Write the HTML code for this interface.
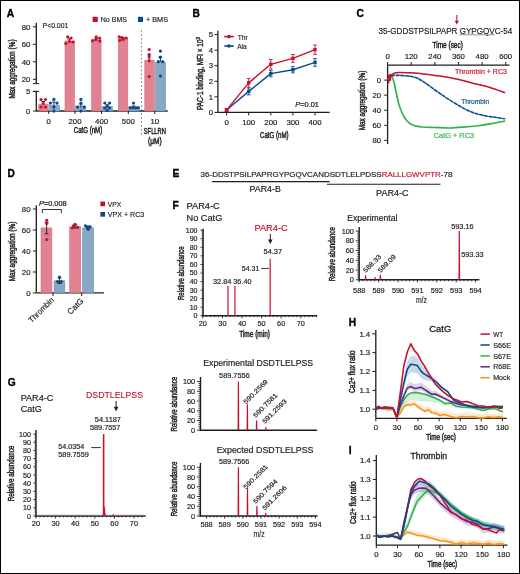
<!DOCTYPE html>
<html><head><meta charset="utf-8"><style>
html,body{margin:0;padding:0;background:#fff;}
svg{display:block;font-family:"Liberation Sans",sans-serif;will-change:transform;}
</style></head><body>
<svg width="520" height="574" viewBox="0 0 520 574">
<rect x="0" y="0" width="520" height="574" fill="#fff"/>
<g fill="#1e1e1e">
<text x="6.8" y="16.6" font-size="10.2" font-weight="bold" fill="#000" stroke="#000" stroke-width="0.35">A</text>
<line x1="36.30" y1="22.80" x2="36.30" y2="83.60" stroke="#1e1e1e" stroke-width="1.3"/>
<line x1="32.90" y1="26.80" x2="36.30" y2="26.80" stroke="#1e1e1e" stroke-width="1"/>
<text x="30.30" y="29.56" font-size="7.78" stroke="#1e1e1e" stroke-width="0.18" text-anchor="end">80</text>
<line x1="32.90" y1="44.30" x2="36.30" y2="44.30" stroke="#1e1e1e" stroke-width="1"/>
<text x="30.30" y="47.06" font-size="7.78" stroke="#1e1e1e" stroke-width="0.18" text-anchor="end">60</text>
<line x1="32.90" y1="61.80" x2="36.30" y2="61.80" stroke="#1e1e1e" stroke-width="1"/>
<text x="30.30" y="64.56" font-size="7.78" stroke="#1e1e1e" stroke-width="0.18" text-anchor="end">40</text>
<line x1="32.90" y1="79.30" x2="36.30" y2="79.30" stroke="#1e1e1e" stroke-width="1"/>
<text x="30.30" y="82.06" font-size="7.78" stroke="#1e1e1e" stroke-width="0.18" text-anchor="end">20</text>
<line x1="32.90" y1="83.60" x2="39.20" y2="83.60" stroke="#1e1e1e" stroke-width="1"/>
<line x1="36.30" y1="91.30" x2="36.30" y2="111.20" stroke="#1e1e1e" stroke-width="1.3"/>
<line x1="32.90" y1="91.30" x2="39.20" y2="91.30" stroke="#1e1e1e" stroke-width="1"/>
<line x1="32.90" y1="91.50" x2="36.30" y2="91.50" stroke="#1e1e1e" stroke-width="1"/>
<text x="30.30" y="94.26" font-size="7.78" stroke="#1e1e1e" stroke-width="0.18" text-anchor="end">5</text>
<line x1="32.90" y1="111.00" x2="36.30" y2="111.00" stroke="#1e1e1e" stroke-width="1"/>
<text x="30.30" y="113.76" font-size="7.78" stroke="#1e1e1e" stroke-width="0.18" text-anchor="end">0</text>
<line x1="36.30" y1="111.00" x2="167.70" y2="111.00" stroke="#1e1e1e" stroke-width="1.3"/>
<rect x="38.70" y="104.45" width="9.50" height="6.55" fill="#e08291" stroke="#d96d80" stroke-width="0.6"/>
<rect x="49.30" y="105.22" width="10.20" height="5.78" fill="#88a7c6" stroke="#7796b8" stroke-width="0.6"/>
<line x1="48.70" y1="111.00" x2="48.70" y2="114.00" stroke="#1e1e1e" stroke-width="1"/>
<rect x="65.00" y="40.98" width="9.50" height="70.03" fill="#e08291" stroke="#d96d80" stroke-width="0.6"/>
<rect x="75.60" y="106.00" width="10.20" height="5.00" fill="#88a7c6" stroke="#7796b8" stroke-width="0.6"/>
<line x1="75.00" y1="111.00" x2="75.00" y2="114.00" stroke="#1e1e1e" stroke-width="1"/>
<rect x="91.60" y="39.75" width="9.50" height="71.25" fill="#e08291" stroke="#d96d80" stroke-width="0.6"/>
<rect x="102.20" y="106.38" width="10.20" height="4.62" fill="#88a7c6" stroke="#7796b8" stroke-width="0.6"/>
<line x1="101.60" y1="111.00" x2="101.60" y2="114.00" stroke="#1e1e1e" stroke-width="1"/>
<rect x="118.30" y="38.79" width="9.50" height="72.21" fill="#e08291" stroke="#d96d80" stroke-width="0.6"/>
<rect x="128.90" y="106.77" width="10.20" height="4.23" fill="#88a7c6" stroke="#7796b8" stroke-width="0.6"/>
<line x1="128.30" y1="111.00" x2="128.30" y2="114.00" stroke="#1e1e1e" stroke-width="1"/>
<rect x="144.80" y="60.31" width="9.50" height="50.69" fill="#e08291" stroke="#d96d80" stroke-width="0.6"/>
<rect x="155.40" y="62.24" width="10.20" height="48.76" fill="#88a7c6" stroke="#7796b8" stroke-width="0.6"/>
<line x1="154.80" y1="111.00" x2="154.80" y2="114.00" stroke="#1e1e1e" stroke-width="1"/>
<line x1="43.20" y1="101.50" x2="43.20" y2="104.50" stroke="#1e1e1e" stroke-width="0.9"/>
<line x1="41.40" y1="101.50" x2="45.00" y2="101.50" stroke="#1e1e1e" stroke-width="0.9"/>
<line x1="69.30" y1="39.00" x2="69.30" y2="42.50" stroke="#1e1e1e" stroke-width="0.9"/>
<line x1="67.50" y1="39.00" x2="71.10" y2="39.00" stroke="#1e1e1e" stroke-width="0.9"/>
<line x1="96.40" y1="38.50" x2="96.40" y2="41.00" stroke="#1e1e1e" stroke-width="0.9"/>
<line x1="94.60" y1="38.50" x2="98.20" y2="38.50" stroke="#1e1e1e" stroke-width="0.9"/>
<line x1="123.00" y1="37.50" x2="123.00" y2="40.00" stroke="#1e1e1e" stroke-width="0.9"/>
<line x1="121.20" y1="37.50" x2="124.80" y2="37.50" stroke="#1e1e1e" stroke-width="0.9"/>
<line x1="149.20" y1="54.90" x2="149.20" y2="60.30" stroke="#1e1e1e" stroke-width="0.9"/>
<line x1="147.40" y1="54.90" x2="151.00" y2="54.90" stroke="#1e1e1e" stroke-width="0.9"/>
<line x1="53.90" y1="102.00" x2="53.90" y2="106.00" stroke="#1e1e1e" stroke-width="0.9"/>
<line x1="52.10" y1="102.00" x2="55.70" y2="102.00" stroke="#1e1e1e" stroke-width="0.9"/>
<line x1="80.90" y1="104.00" x2="80.90" y2="107.50" stroke="#1e1e1e" stroke-width="0.9"/>
<line x1="79.10" y1="104.00" x2="82.70" y2="104.00" stroke="#1e1e1e" stroke-width="0.9"/>
<line x1="107.20" y1="104.80" x2="107.20" y2="107.80" stroke="#1e1e1e" stroke-width="0.9"/>
<line x1="105.40" y1="104.80" x2="109.00" y2="104.80" stroke="#1e1e1e" stroke-width="0.9"/>
<line x1="133.50" y1="106.00" x2="133.50" y2="108.50" stroke="#1e1e1e" stroke-width="0.9"/>
<line x1="131.70" y1="106.00" x2="135.30" y2="106.00" stroke="#1e1e1e" stroke-width="0.9"/>
<line x1="160.40" y1="57.20" x2="160.40" y2="62.00" stroke="#1e1e1e" stroke-width="0.9"/>
<line x1="158.60" y1="57.20" x2="162.20" y2="57.20" stroke="#1e1e1e" stroke-width="0.9"/>
<circle cx="41.00" cy="99.50" r="1.6" fill="#c8102e"/>
<circle cx="45.50" cy="99.50" r="1.6" fill="#c8102e"/>
<circle cx="41.00" cy="107.00" r="1.6" fill="#c8102e"/>
<circle cx="45.50" cy="107.00" r="1.6" fill="#c8102e"/>
<circle cx="43.20" cy="103.50" r="1.6" fill="#c8102e"/>
<circle cx="67.70" cy="36.90" r="1.6" fill="#c8102e"/>
<circle cx="71.10" cy="38.00" r="1.6" fill="#c8102e"/>
<circle cx="65.80" cy="43.50" r="1.6" fill="#c8102e"/>
<circle cx="69.50" cy="41.50" r="1.6" fill="#c8102e"/>
<circle cx="73.10" cy="42.00" r="1.6" fill="#c8102e"/>
<circle cx="92.60" cy="40.80" r="1.6" fill="#c8102e"/>
<circle cx="96.20" cy="36.90" r="1.6" fill="#c8102e"/>
<circle cx="95.70" cy="39.50" r="1.6" fill="#c8102e"/>
<circle cx="99.70" cy="38.00" r="1.6" fill="#c8102e"/>
<circle cx="99.70" cy="41.10" r="1.6" fill="#c8102e"/>
<circle cx="119.20" cy="36.90" r="1.6" fill="#c8102e"/>
<circle cx="119.70" cy="40.50" r="1.6" fill="#c8102e"/>
<circle cx="123.10" cy="39.50" r="1.6" fill="#c8102e"/>
<circle cx="126.20" cy="38.00" r="1.6" fill="#c8102e"/>
<circle cx="121.80" cy="37.70" r="1.6" fill="#c8102e"/>
<circle cx="149.20" cy="49.50" r="1.6" fill="#c8102e"/>
<circle cx="149.20" cy="54.60" r="1.6" fill="#c8102e"/>
<circle cx="149.20" cy="57.00" r="1.6" fill="#c8102e"/>
<circle cx="149.20" cy="60.70" r="1.6" fill="#c8102e"/>
<circle cx="149.20" cy="76.50" r="1.6" fill="#c8102e"/>
<circle cx="53.90" cy="99.40" r="1.6" fill="#0a4a8c"/>
<circle cx="50.40" cy="103.10" r="1.6" fill="#0a4a8c"/>
<circle cx="57.00" cy="103.10" r="1.6" fill="#0a4a8c"/>
<circle cx="53.90" cy="107.10" r="1.6" fill="#0a4a8c"/>
<circle cx="53.90" cy="111.10" r="1.6" fill="#0a4a8c"/>
<circle cx="80.90" cy="99.40" r="1.6" fill="#0a4a8c"/>
<circle cx="80.90" cy="103.10" r="1.6" fill="#0a4a8c"/>
<circle cx="77.60" cy="107.10" r="1.6" fill="#0a4a8c"/>
<circle cx="84.20" cy="107.10" r="1.6" fill="#0a4a8c"/>
<circle cx="80.90" cy="111.10" r="1.6" fill="#0a4a8c"/>
<circle cx="104.80" cy="103.00" r="1.6" fill="#0a4a8c"/>
<circle cx="109.60" cy="103.00" r="1.6" fill="#0a4a8c"/>
<circle cx="107.20" cy="106.00" r="1.6" fill="#0a4a8c"/>
<circle cx="104.80" cy="108.00" r="1.6" fill="#0a4a8c"/>
<circle cx="109.60" cy="108.00" r="1.6" fill="#0a4a8c"/>
<circle cx="107.20" cy="110.50" r="1.6" fill="#0a4a8c"/>
<circle cx="133.50" cy="103.10" r="1.6" fill="#0a4a8c"/>
<circle cx="130.00" cy="107.80" r="1.6" fill="#0a4a8c"/>
<circle cx="132.90" cy="107.80" r="1.6" fill="#0a4a8c"/>
<circle cx="135.80" cy="107.80" r="1.6" fill="#0a4a8c"/>
<circle cx="138.40" cy="107.80" r="1.6" fill="#0a4a8c"/>
<circle cx="160.40" cy="51.10" r="1.6" fill="#0a4a8c"/>
<circle cx="160.40" cy="57.20" r="1.6" fill="#0a4a8c"/>
<circle cx="158.30" cy="61.70" r="1.6" fill="#0a4a8c"/>
<circle cx="162.70" cy="61.70" r="1.6" fill="#0a4a8c"/>
<circle cx="160.40" cy="76.10" r="1.6" fill="#0a4a8c"/>
<rect x="140.90" y="30.20" width="0.85" height="1.50" fill="#555"/>
<rect x="140.90" y="34.15" width="0.85" height="1.50" fill="#555"/>
<rect x="140.90" y="38.10" width="0.85" height="1.50" fill="#555"/>
<rect x="140.90" y="42.05" width="0.85" height="1.50" fill="#555"/>
<rect x="140.90" y="46.00" width="0.85" height="1.50" fill="#555"/>
<rect x="140.90" y="49.95" width="0.85" height="1.50" fill="#555"/>
<rect x="140.90" y="53.90" width="0.85" height="1.50" fill="#555"/>
<rect x="140.90" y="57.85" width="0.85" height="1.50" fill="#555"/>
<rect x="140.90" y="61.80" width="0.85" height="1.50" fill="#555"/>
<rect x="140.90" y="65.75" width="0.85" height="1.50" fill="#555"/>
<rect x="140.90" y="69.70" width="0.85" height="1.50" fill="#555"/>
<rect x="140.90" y="73.65" width="0.85" height="1.50" fill="#555"/>
<rect x="140.90" y="77.60" width="0.85" height="1.50" fill="#555"/>
<rect x="140.90" y="81.55" width="0.85" height="1.50" fill="#555"/>
<rect x="140.90" y="85.50" width="0.85" height="1.50" fill="#555"/>
<rect x="140.90" y="89.45" width="0.85" height="1.50" fill="#555"/>
<rect x="140.90" y="93.40" width="0.85" height="1.50" fill="#555"/>
<rect x="140.90" y="97.35" width="0.85" height="1.50" fill="#555"/>
<rect x="140.90" y="101.30" width="0.85" height="1.50" fill="#555"/>
<rect x="140.90" y="105.25" width="0.85" height="1.50" fill="#555"/>
<rect x="140.90" y="109.20" width="0.85" height="1.50" fill="#555"/>
<rect x="140.90" y="113.15" width="0.85" height="1.50" fill="#555"/>
<rect x="140.90" y="117.10" width="0.85" height="1.50" fill="#555"/>
<rect x="140.90" y="121.05" width="0.85" height="1.50" fill="#555"/>
<rect x="140.90" y="125.00" width="0.85" height="1.50" fill="#555"/>
<rect x="140.90" y="128.95" width="0.85" height="1.50" fill="#555"/>
<rect x="140.90" y="132.90" width="0.85" height="1.50" fill="#555"/>
<text x="48.70" y="123.56" font-size="7.78" stroke="#1e1e1e" stroke-width="0.18" text-anchor="middle">0</text>
<text x="75.00" y="123.56" font-size="7.78" stroke="#1e1e1e" stroke-width="0.18" text-anchor="middle">200</text>
<text x="101.60" y="123.56" font-size="7.78" stroke="#1e1e1e" stroke-width="0.18" text-anchor="middle">400</text>
<text x="128.30" y="123.56" font-size="7.78" stroke="#1e1e1e" stroke-width="0.18" text-anchor="middle">500</text>
<text x="154.80" y="123.56" font-size="7.78" stroke="#1e1e1e" stroke-width="0.18" text-anchor="middle">10</text>
<text x="88.00" y="133.25" font-size="8.3" stroke="#1e1e1e" stroke-width="0.45" text-anchor="middle" textLength="28.50" lengthAdjust="spacingAndGlyphs">CatG (nM)</text>
<text x="154.80" y="133.95" font-size="8.3" stroke="#1e1e1e" stroke-width="0.45" text-anchor="middle" textLength="22.00" lengthAdjust="spacingAndGlyphs">SFLLRN</text>
<text x="154.80" y="144.15" font-size="8.3" stroke="#1e1e1e" stroke-width="0.45" text-anchor="middle" textLength="13.50" lengthAdjust="spacingAndGlyphs">(&#956;M)</text>
<text x="14.70" y="69.00" font-size="8.3" stroke="#1e1e1e" stroke-width="0.45" text-anchor="middle" textLength="59.00" lengthAdjust="spacingAndGlyphs" transform="rotate(-90 14.70 69.00)">Max aggregation (%)</text>
<text x="42.60" y="27.53" font-size="7.13" stroke="#1e1e1e" stroke-width="0.18" textLength="25.70" lengthAdjust="spacingAndGlyphs">P&lt;0.001</text>
<rect x="92.60" y="16.80" width="5.20" height="5.20" fill="#c8102e"/>
<text x="100.70" y="22.08" font-size="7.56" stroke="#1e1e1e" stroke-width="0.18" textLength="26.30" lengthAdjust="spacingAndGlyphs">No BMS</text>
<rect x="138.00" y="16.80" width="5.00" height="5.20" fill="#0a4a8c"/>
<text x="146.00" y="22.08" font-size="7.56" stroke="#1e1e1e" stroke-width="0.18" textLength="22.00" lengthAdjust="spacingAndGlyphs">+ BMS</text>
<text x="192.4" y="16.8" font-size="10.2" font-weight="bold" fill="#000" stroke="#000" stroke-width="0.35">B</text>
<line x1="217.90" y1="30.80" x2="217.90" y2="112.40" stroke="#1e1e1e" stroke-width="1.3"/>
<line x1="214.50" y1="112.40" x2="217.90" y2="112.40" stroke="#1e1e1e" stroke-width="1"/>
<text x="213.00" y="115.16" font-size="7.78" stroke="#1e1e1e" stroke-width="0.18" text-anchor="end">0</text>
<line x1="214.50" y1="96.84" x2="217.90" y2="96.84" stroke="#1e1e1e" stroke-width="1"/>
<text x="213.00" y="99.60" font-size="7.78" stroke="#1e1e1e" stroke-width="0.18" text-anchor="end">1</text>
<line x1="214.50" y1="81.28" x2="217.90" y2="81.28" stroke="#1e1e1e" stroke-width="1"/>
<text x="213.00" y="84.04" font-size="7.78" stroke="#1e1e1e" stroke-width="0.18" text-anchor="end">2</text>
<line x1="214.50" y1="65.72" x2="217.90" y2="65.72" stroke="#1e1e1e" stroke-width="1"/>
<text x="213.00" y="68.48" font-size="7.78" stroke="#1e1e1e" stroke-width="0.18" text-anchor="end">3</text>
<line x1="214.50" y1="50.16" x2="217.90" y2="50.16" stroke="#1e1e1e" stroke-width="1"/>
<text x="213.00" y="52.92" font-size="7.78" stroke="#1e1e1e" stroke-width="0.18" text-anchor="end">4</text>
<line x1="214.50" y1="34.60" x2="217.90" y2="34.60" stroke="#1e1e1e" stroke-width="1"/>
<text x="213.00" y="37.36" font-size="7.78" stroke="#1e1e1e" stroke-width="0.18" text-anchor="end">5</text>
<line x1="217.90" y1="112.40" x2="329.70" y2="112.40" stroke="#1e1e1e" stroke-width="1.3"/>
<line x1="226.60" y1="112.40" x2="226.60" y2="115.40" stroke="#1e1e1e" stroke-width="1"/>
<text x="226.60" y="125.06" font-size="7.78" stroke="#1e1e1e" stroke-width="0.18" text-anchor="middle">0</text>
<line x1="248.70" y1="112.40" x2="248.70" y2="115.40" stroke="#1e1e1e" stroke-width="1"/>
<text x="248.70" y="125.06" font-size="7.78" stroke="#1e1e1e" stroke-width="0.18" text-anchor="middle">100</text>
<line x1="270.80" y1="112.40" x2="270.80" y2="115.40" stroke="#1e1e1e" stroke-width="1"/>
<text x="270.80" y="125.06" font-size="7.78" stroke="#1e1e1e" stroke-width="0.18" text-anchor="middle">200</text>
<line x1="292.90" y1="112.40" x2="292.90" y2="115.40" stroke="#1e1e1e" stroke-width="1"/>
<text x="292.90" y="125.06" font-size="7.78" stroke="#1e1e1e" stroke-width="0.18" text-anchor="middle">300</text>
<line x1="315.00" y1="112.40" x2="315.00" y2="115.40" stroke="#1e1e1e" stroke-width="1"/>
<text x="315.00" y="125.06" font-size="7.78" stroke="#1e1e1e" stroke-width="0.18" text-anchor="middle">400</text>
<text x="274.30" y="137.55" font-size="8.3" stroke="#1e1e1e" stroke-width="0.45" text-anchor="middle" textLength="28.50" lengthAdjust="spacingAndGlyphs">CatG (nM)</text>
<text x="203.20" y="73.60" font-size="8.3" stroke="#1e1e1e" stroke-width="0.45" text-anchor="middle" textLength="73.00" lengthAdjust="spacingAndGlyphs" transform="rotate(-90 203.20 73.60)">PAC-1 binding, MFI &#215; 10<tspan font-size="5.5" dy="-3.2">3</tspan></text>
<path d="M226.60,110.07 L248.70,91.39 L270.80,73.66 L292.90,69.77 L315.00,62.45" fill="none" stroke="#0a4a8c" stroke-width="1.4" stroke-linejoin="round"/>
<line x1="226.60" y1="108.82" x2="226.60" y2="111.31" stroke="#0a4a8c" stroke-width="0.9"/>
<line x1="224.80" y1="108.82" x2="228.40" y2="108.82" stroke="#0a4a8c" stroke-width="0.9"/>
<line x1="224.80" y1="111.31" x2="228.40" y2="111.31" stroke="#0a4a8c" stroke-width="0.9"/>
<rect x="224.90" y="108.37" width="3.40" height="3.40" fill="#0a4a8c"/>
<line x1="248.70" y1="87.97" x2="248.70" y2="94.82" stroke="#0a4a8c" stroke-width="0.9"/>
<line x1="246.90" y1="87.97" x2="250.50" y2="87.97" stroke="#0a4a8c" stroke-width="0.9"/>
<line x1="246.90" y1="94.82" x2="250.50" y2="94.82" stroke="#0a4a8c" stroke-width="0.9"/>
<rect x="247.00" y="89.69" width="3.40" height="3.40" fill="#0a4a8c"/>
<line x1="270.80" y1="70.54" x2="270.80" y2="76.77" stroke="#0a4a8c" stroke-width="0.9"/>
<line x1="269.00" y1="70.54" x2="272.60" y2="70.54" stroke="#0a4a8c" stroke-width="0.9"/>
<line x1="269.00" y1="76.77" x2="272.60" y2="76.77" stroke="#0a4a8c" stroke-width="0.9"/>
<rect x="269.10" y="71.96" width="3.40" height="3.40" fill="#0a4a8c"/>
<line x1="292.90" y1="66.65" x2="292.90" y2="72.88" stroke="#0a4a8c" stroke-width="0.9"/>
<line x1="291.10" y1="66.65" x2="294.70" y2="66.65" stroke="#0a4a8c" stroke-width="0.9"/>
<line x1="291.10" y1="72.88" x2="294.70" y2="72.88" stroke="#0a4a8c" stroke-width="0.9"/>
<rect x="291.20" y="68.07" width="3.40" height="3.40" fill="#0a4a8c"/>
<line x1="315.00" y1="58.56" x2="315.00" y2="66.34" stroke="#0a4a8c" stroke-width="0.9"/>
<line x1="313.20" y1="58.56" x2="316.80" y2="58.56" stroke="#0a4a8c" stroke-width="0.9"/>
<line x1="313.20" y1="66.34" x2="316.80" y2="66.34" stroke="#0a4a8c" stroke-width="0.9"/>
<rect x="313.30" y="60.75" width="3.40" height="3.40" fill="#0a4a8c"/>
<path d="M226.60,110.07 L248.70,82.84 L270.80,64.32 L292.90,58.41 L315.00,49.69" fill="none" stroke="#c8102e" stroke-width="1.4" stroke-linejoin="round"/>
<line x1="226.60" y1="108.51" x2="226.60" y2="111.62" stroke="#c8102e" stroke-width="0.9"/>
<line x1="224.80" y1="108.51" x2="228.40" y2="108.51" stroke="#c8102e" stroke-width="0.9"/>
<line x1="224.80" y1="111.62" x2="228.40" y2="111.62" stroke="#c8102e" stroke-width="0.9"/>
<rect x="224.90" y="108.37" width="3.40" height="3.40" fill="#c8102e"/>
<line x1="248.70" y1="78.48" x2="248.70" y2="87.19" stroke="#c8102e" stroke-width="0.9"/>
<line x1="246.90" y1="78.48" x2="250.50" y2="78.48" stroke="#c8102e" stroke-width="0.9"/>
<line x1="246.90" y1="87.19" x2="250.50" y2="87.19" stroke="#c8102e" stroke-width="0.9"/>
<rect x="247.00" y="81.14" width="3.40" height="3.40" fill="#c8102e"/>
<line x1="270.80" y1="59.65" x2="270.80" y2="68.99" stroke="#c8102e" stroke-width="0.9"/>
<line x1="269.00" y1="59.65" x2="272.60" y2="59.65" stroke="#c8102e" stroke-width="0.9"/>
<line x1="269.00" y1="68.99" x2="272.60" y2="68.99" stroke="#c8102e" stroke-width="0.9"/>
<rect x="269.10" y="62.62" width="3.40" height="3.40" fill="#c8102e"/>
<line x1="292.90" y1="54.52" x2="292.90" y2="62.30" stroke="#c8102e" stroke-width="0.9"/>
<line x1="291.10" y1="54.52" x2="294.70" y2="54.52" stroke="#c8102e" stroke-width="0.9"/>
<line x1="291.10" y1="62.30" x2="294.70" y2="62.30" stroke="#c8102e" stroke-width="0.9"/>
<rect x="291.20" y="56.71" width="3.40" height="3.40" fill="#c8102e"/>
<line x1="315.00" y1="45.03" x2="315.00" y2="54.36" stroke="#c8102e" stroke-width="0.9"/>
<line x1="313.20" y1="45.03" x2="316.80" y2="45.03" stroke="#c8102e" stroke-width="0.9"/>
<line x1="313.20" y1="54.36" x2="316.80" y2="54.36" stroke="#c8102e" stroke-width="0.9"/>
<rect x="313.30" y="47.99" width="3.40" height="3.40" fill="#c8102e"/>
<line x1="224.30" y1="36.60" x2="233.80" y2="36.60" stroke="#c8102e" stroke-width="1.6"/>
<circle cx="229.00" cy="36.60" r="1.8" fill="#c8102e"/>
<text x="237.80" y="39.66" font-size="7.78" stroke="#1e1e1e" stroke-width="0.18" textLength="10.00" lengthAdjust="spacingAndGlyphs">Thr</text>
<line x1="224.30" y1="46.00" x2="233.80" y2="46.00" stroke="#0a4a8c" stroke-width="1.6"/>
<circle cx="229.00" cy="46.00" r="1.8" fill="#0a4a8c"/>
<text x="237.20" y="49.06" font-size="7.78" stroke="#1e1e1e" stroke-width="0.18" textLength="9.60" lengthAdjust="spacingAndGlyphs">Ala</text>
<text x="295.3" y="107.4" font-size="6.6" textLength="23.6" lengthAdjust="spacingAndGlyphs" fill="#1e1e1e" stroke="#1e1e1e" stroke-width="0.22"><tspan font-style="italic">P</tspan>=0.01</text>
<text x="356.6" y="17.2" font-size="10.2" font-weight="bold" fill="#000" stroke="#000" stroke-width="0.35">C</text>
<text x="378.60" y="33.91" font-size="8.2" stroke="#1e1e1e" stroke-width="0.18" textLength="133.60" lengthAdjust="spacingAndGlyphs">35-GDDSTPSILPAPR GYPGQVC-54</text>
<line x1="459.40" y1="34.80" x2="494.90" y2="34.80" stroke="#888" stroke-width="0.9"/>
<line x1="456.80" y1="15.00" x2="456.80" y2="21.50" stroke="#c8102e" stroke-width="1.0"/>
<path d="M454.6,20.8 L459.0,20.8 L456.8,24.4 Z" fill="#c8102e"/>
<text x="447.70" y="48.45" font-size="8.3" stroke="#1e1e1e" stroke-width="0.45" text-anchor="middle" textLength="30.30" lengthAdjust="spacingAndGlyphs">Time (sec)</text>
<line x1="387.60" y1="65.20" x2="509.60" y2="65.20" stroke="#1e1e1e" stroke-width="1.3"/>
<line x1="387.60" y1="62.00" x2="387.60" y2="65.20" stroke="#1e1e1e" stroke-width="1"/>
<text x="387.60" y="59.16" font-size="7.78" stroke="#1e1e1e" stroke-width="0.18" text-anchor="middle">0</text>
<line x1="411.22" y1="62.00" x2="411.22" y2="65.20" stroke="#1e1e1e" stroke-width="1"/>
<text x="411.22" y="59.16" font-size="7.78" stroke="#1e1e1e" stroke-width="0.18" text-anchor="middle">120</text>
<line x1="434.84" y1="62.00" x2="434.84" y2="65.20" stroke="#1e1e1e" stroke-width="1"/>
<text x="434.84" y="59.16" font-size="7.78" stroke="#1e1e1e" stroke-width="0.18" text-anchor="middle">240</text>
<line x1="458.46" y1="62.00" x2="458.46" y2="65.20" stroke="#1e1e1e" stroke-width="1"/>
<text x="458.46" y="59.16" font-size="7.78" stroke="#1e1e1e" stroke-width="0.18" text-anchor="middle">360</text>
<line x1="482.08" y1="62.00" x2="482.08" y2="65.20" stroke="#1e1e1e" stroke-width="1"/>
<text x="482.08" y="59.16" font-size="7.78" stroke="#1e1e1e" stroke-width="0.18" text-anchor="middle">480</text>
<line x1="505.70" y1="62.00" x2="505.70" y2="65.20" stroke="#1e1e1e" stroke-width="1"/>
<text x="505.70" y="59.16" font-size="7.78" stroke="#1e1e1e" stroke-width="0.18" text-anchor="middle">600</text>
<line x1="387.60" y1="65.20" x2="387.60" y2="144.10" stroke="#1e1e1e" stroke-width="1.3"/>
<line x1="384.20" y1="80.10" x2="387.60" y2="80.10" stroke="#1e1e1e" stroke-width="1"/>
<text x="381.20" y="82.86" font-size="7.78" stroke="#1e1e1e" stroke-width="0.18" text-anchor="end">0</text>
<line x1="384.20" y1="95.18" x2="387.60" y2="95.18" stroke="#1e1e1e" stroke-width="1"/>
<text x="381.20" y="97.94" font-size="7.78" stroke="#1e1e1e" stroke-width="0.18" text-anchor="end">20</text>
<line x1="384.20" y1="110.25" x2="387.60" y2="110.25" stroke="#1e1e1e" stroke-width="1"/>
<text x="381.20" y="113.01" font-size="7.78" stroke="#1e1e1e" stroke-width="0.18" text-anchor="end">40</text>
<line x1="384.20" y1="125.33" x2="387.60" y2="125.33" stroke="#1e1e1e" stroke-width="1"/>
<text x="381.20" y="128.09" font-size="7.78" stroke="#1e1e1e" stroke-width="0.18" text-anchor="end">60</text>
<line x1="384.20" y1="140.40" x2="387.60" y2="140.40" stroke="#1e1e1e" stroke-width="1"/>
<text x="381.20" y="143.17" font-size="7.78" stroke="#1e1e1e" stroke-width="0.18" text-anchor="end">80</text>
<text x="364.70" y="100.50" font-size="8.3" stroke="#1e1e1e" stroke-width="0.45" text-anchor="middle" textLength="59.70" lengthAdjust="spacingAndGlyphs" transform="rotate(-90 364.70 100.50)">Max aggregation (%)</text>
<path d="M388.20,79.00 C388.58,78.25 389.58,74.13 390.50,74.50 C391.42,74.87 392.75,78.20 393.70,81.20 C394.65,84.20 395.37,88.75 396.20,92.50 C397.03,96.25 397.73,100.37 398.70,103.70 C399.67,107.03 400.75,109.78 402.00,112.50 C403.25,115.22 404.45,117.92 406.20,120.00 C407.95,122.08 409.78,123.83 412.50,125.00 C415.22,126.17 418.75,126.58 422.50,127.00 C426.25,127.42 430.42,127.33 435.00,127.50 C439.58,127.67 445.00,128.08 450.00,128.00 C455.00,127.92 460.00,127.42 465.00,127.00 C470.00,126.58 475.00,126.17 480.00,125.50 C485.00,124.83 490.92,123.72 495.00,123.00 C499.08,122.28 502.92,121.50 504.50,121.20" fill="none" stroke="#2db34a" stroke-width="1.7" stroke-linejoin="round" stroke-linecap="round"/>
<path d="M388.20,79.00 C388.70,78.47 389.23,76.40 391.20,75.80 C393.17,75.20 396.87,75.32 400.00,75.40 C403.13,75.48 407.08,75.82 410.00,76.30 C412.92,76.78 415.00,77.22 417.50,78.30 C420.00,79.38 422.08,80.85 425.00,82.80 C427.92,84.75 431.67,87.63 435.00,90.00 C438.33,92.37 441.67,94.78 445.00,97.00 C448.33,99.22 451.67,101.30 455.00,103.30 C458.33,105.30 461.67,107.35 465.00,109.00 C468.33,110.65 471.67,112.07 475.00,113.20 C478.33,114.33 481.67,115.12 485.00,115.80 C488.33,116.48 491.75,116.82 495.00,117.30 C498.25,117.78 502.92,118.47 504.50,118.70" fill="none" stroke="#0a4a8c" stroke-width="1.6" stroke-linejoin="round" stroke-linecap="round" stroke-dasharray="3.0,1.7"/>
<path d="M390.00,76.00 C390.83,75.50 393.33,73.58 395.00,73.00 C396.67,72.42 396.67,72.50 400.00,72.50 C403.33,72.50 409.17,72.50 415.00,73.00 C420.83,73.50 428.33,74.55 435.00,75.50 C441.67,76.45 448.33,77.33 455.00,78.70 C461.67,80.07 469.17,82.23 475.00,83.70 C480.83,85.17 485.08,86.03 490.00,87.50 C494.92,88.97 502.08,91.67 504.50,92.50" fill="none" stroke="#c8102e" stroke-width="1.55" stroke-linejoin="round" stroke-linecap="round"/>
<path d="M388.2,75 L388.8,83.5 L389.6,74 L390.4,81 L391.2,75" fill="none" stroke="#c8102e" stroke-width="1.2"/>
<text x="481.00" y="74.14" font-size="7.99" stroke="#c8102e" stroke-width="0.18" text-anchor="middle" fill="#c8102e" textLength="52.00" lengthAdjust="spacingAndGlyphs">Thrombin + RC3</text>
<text x="475.20" y="103.54" font-size="7.99" stroke="#0a4a8c" stroke-width="0.18" text-anchor="middle" fill="#0a4a8c" textLength="28.10" lengthAdjust="spacingAndGlyphs">Thrombin</text>
<text x="453.90" y="137.54" font-size="7.99" stroke="#2db34a" stroke-width="0.18" text-anchor="middle" fill="#2db34a" textLength="40.30" lengthAdjust="spacingAndGlyphs">CatG + RC3</text>
<text x="7.6" y="177.2" font-size="10.2" font-weight="bold" fill="#000" stroke="#000" stroke-width="0.35">D</text>
<line x1="36.30" y1="205.20" x2="36.30" y2="292.80" stroke="#1e1e1e" stroke-width="1.3"/>
<line x1="32.90" y1="293.00" x2="36.30" y2="293.00" stroke="#1e1e1e" stroke-width="1"/>
<text x="30.50" y="295.76" font-size="7.78" stroke="#1e1e1e" stroke-width="0.18" text-anchor="end">0</text>
<line x1="32.90" y1="272.00" x2="36.30" y2="272.00" stroke="#1e1e1e" stroke-width="1"/>
<text x="30.50" y="274.76" font-size="7.78" stroke="#1e1e1e" stroke-width="0.18" text-anchor="end">20</text>
<line x1="32.90" y1="251.00" x2="36.30" y2="251.00" stroke="#1e1e1e" stroke-width="1"/>
<text x="30.50" y="253.76" font-size="7.78" stroke="#1e1e1e" stroke-width="0.18" text-anchor="end">40</text>
<line x1="32.90" y1="230.00" x2="36.30" y2="230.00" stroke="#1e1e1e" stroke-width="1"/>
<text x="30.50" y="232.76" font-size="7.78" stroke="#1e1e1e" stroke-width="0.18" text-anchor="end">60</text>
<line x1="32.90" y1="209.00" x2="36.30" y2="209.00" stroke="#1e1e1e" stroke-width="1"/>
<text x="30.50" y="211.76" font-size="7.78" stroke="#1e1e1e" stroke-width="0.18" text-anchor="end">80</text>
<line x1="36.30" y1="292.80" x2="103.90" y2="292.80" stroke="#1e1e1e" stroke-width="1.3"/>
<rect x="41.00" y="227.90" width="10.90" height="64.90" fill="#e08291" stroke="#d96d80" stroke-width="0.6"/>
<rect x="54.00" y="280.82" width="10.90" height="11.98" fill="#88a7c6" stroke="#7796b8" stroke-width="0.6"/>
<rect x="69.70" y="226.85" width="11.10" height="65.95" fill="#e08291" stroke="#d96d80" stroke-width="0.6"/>
<rect x="82.60" y="227.90" width="11.10" height="64.90" fill="#88a7c6" stroke="#7796b8" stroke-width="0.6"/>
<line x1="53.00" y1="292.80" x2="53.00" y2="296.00" stroke="#1e1e1e" stroke-width="1"/>
<line x1="81.70" y1="292.80" x2="81.70" y2="296.00" stroke="#1e1e1e" stroke-width="1"/>
<line x1="46.60" y1="222.40" x2="46.60" y2="233.80" stroke="#1e1e1e" stroke-width="0.9"/>
<line x1="44.60" y1="222.40" x2="48.60" y2="222.40" stroke="#1e1e1e" stroke-width="0.9"/>
<line x1="44.60" y1="233.80" x2="48.60" y2="233.80" stroke="#1e1e1e" stroke-width="0.9"/>
<line x1="59.50" y1="278.00" x2="59.50" y2="283.50" stroke="#1e1e1e" stroke-width="0.9"/>
<line x1="57.50" y1="278.00" x2="61.50" y2="278.00" stroke="#1e1e1e" stroke-width="0.9"/>
<line x1="57.50" y1="283.50" x2="61.50" y2="283.50" stroke="#1e1e1e" stroke-width="0.9"/>
<line x1="75.20" y1="225.00" x2="75.20" y2="228.00" stroke="#1e1e1e" stroke-width="0.9"/>
<line x1="73.20" y1="225.00" x2="77.20" y2="225.00" stroke="#1e1e1e" stroke-width="0.9"/>
<line x1="73.20" y1="228.00" x2="77.20" y2="228.00" stroke="#1e1e1e" stroke-width="0.9"/>
<line x1="88.10" y1="226.00" x2="88.10" y2="229.00" stroke="#1e1e1e" stroke-width="0.9"/>
<line x1="86.10" y1="226.00" x2="90.10" y2="226.00" stroke="#1e1e1e" stroke-width="0.9"/>
<line x1="86.10" y1="229.00" x2="90.10" y2="229.00" stroke="#1e1e1e" stroke-width="0.9"/>
<circle cx="46.70" cy="220.30" r="1.6" fill="#c8102e"/>
<circle cx="46.70" cy="223.40" r="1.6" fill="#c8102e"/>
<circle cx="46.70" cy="239.60" r="1.6" fill="#c8102e"/>
<circle cx="59.50" cy="277.00" r="1.6" fill="#0a4a8c"/>
<circle cx="57.50" cy="281.50" r="1.6" fill="#0a4a8c"/>
<circle cx="61.50" cy="281.50" r="1.6" fill="#0a4a8c"/>
<circle cx="72.30" cy="228.00" r="1.6" fill="#c8102e"/>
<circle cx="75.10" cy="224.40" r="1.6" fill="#c8102e"/>
<circle cx="77.60" cy="227.30" r="1.6" fill="#c8102e"/>
<circle cx="73.50" cy="225.80" r="1.6" fill="#c8102e"/>
<circle cx="85.50" cy="225.80" r="1.6" fill="#0a4a8c"/>
<circle cx="88.30" cy="229.30" r="1.6" fill="#0a4a8c"/>
<circle cx="90.20" cy="226.80" r="1.6" fill="#0a4a8c"/>
<circle cx="87.40" cy="227.30" r="1.6" fill="#0a4a8c"/>
<path d="M42.4,213 L42.4,209.5 L61.4,209.5 L61.4,213" fill="none" stroke="#1e1e1e" stroke-width="0.9"/>
<text x="38.9" y="206.4" font-size="6.8" textLength="27.7" lengthAdjust="spacingAndGlyphs" fill="#1e1e1e" stroke="#1e1e1e" stroke-width="0.22"><tspan font-style="italic">P</tspan>=0.008</text>
<rect x="100.40" y="201.50" width="4.70" height="4.70" fill="#c8102e"/>
<text x="107.80" y="206.58" font-size="7.56" stroke="#1e1e1e" stroke-width="0.18" textLength="13.40" lengthAdjust="spacingAndGlyphs">VPX</text>
<rect x="100.40" y="212.00" width="4.70" height="4.70" fill="#0a4a8c"/>
<text x="107.80" y="216.88" font-size="7.56" stroke="#1e1e1e" stroke-width="0.18" textLength="36.50" lengthAdjust="spacingAndGlyphs">VPX + RC3</text>
<text x="14.50" y="251.50" font-size="8.3" stroke="#1e1e1e" stroke-width="0.45" text-anchor="middle" textLength="59.70" lengthAdjust="spacingAndGlyphs" transform="rotate(-90 14.50 251.50)">Max aggregation (%)</text>
<text x="54.5" y="300.5" font-size="8.0" text-anchor="end" textLength="32" lengthAdjust="spacingAndGlyphs" transform="rotate(-45 54.5 300.5)" fill="#1e1e1e" stroke="#1e1e1e" stroke-width="0.18">Thrombin</text>
<text x="84.0" y="301.5" font-size="8.0" text-anchor="end" textLength="19" lengthAdjust="spacingAndGlyphs" transform="rotate(-45 84.0 301.5)" fill="#1e1e1e" stroke="#1e1e1e" stroke-width="0.18">CatG</text>
<text x="172.5" y="177.0" font-size="10.2" font-weight="bold" fill="#000" stroke="#000" stroke-width="0.35">E</text>
<text x="200.60" y="177.24" font-size="7.99" stroke="#1e1e1e" stroke-width="0.18" textLength="181.10" lengthAdjust="spacingAndGlyphs">36-DDSTPSILPAPRGYPGQVCANDSDTLELPDSS</text>
<text x="381.70" y="177.24" font-size="7.99" stroke="#c8102e" stroke-width="0.18" fill="#c8102e" textLength="59.10" lengthAdjust="spacingAndGlyphs">RALLLGWVPTR</text>
<text x="440.80" y="177.24" font-size="7.99" stroke="#1e1e1e" stroke-width="0.18" textLength="11.90" lengthAdjust="spacingAndGlyphs">-78</text>
<line x1="212.10" y1="181.60" x2="329.60" y2="181.60" stroke="#1e1e1e" stroke-width="1.1"/>
<line x1="326.90" y1="184.20" x2="440.40" y2="184.20" stroke="#1e1e1e" stroke-width="1.1"/>
<text x="249.60" y="192.11" font-size="8.21" stroke="#1e1e1e" stroke-width="0.18" textLength="31.20" lengthAdjust="spacingAndGlyphs">PAR4-B</text>
<text x="376.00" y="195.61" font-size="8.21" stroke="#1e1e1e" stroke-width="0.18" textLength="32.70" lengthAdjust="spacingAndGlyphs">PAR4-C</text>
<text x="172.5" y="209.2" font-size="10.2" font-weight="bold" fill="#000" stroke="#000" stroke-width="0.35">F</text>
<text x="186.50" y="209.05" font-size="8.6" stroke="#1e1e1e" stroke-width="0.18" textLength="33.30" lengthAdjust="spacingAndGlyphs">PAR4-C</text>
<text x="186.50" y="220.55" font-size="8.6" stroke="#1e1e1e" stroke-width="0.18" textLength="35.80" lengthAdjust="spacingAndGlyphs">No CatG</text>
<line x1="203.10" y1="228.70" x2="203.10" y2="316.40" stroke="#1e1e1e" stroke-width="1.4"/>
<line x1="200.50" y1="315.80" x2="203.10" y2="315.80" stroke="#1e1e1e" stroke-width="0.9"/>
<text x="197.50" y="318.29" font-size="7.02" stroke="#1e1e1e" stroke-width="0.18" text-anchor="end">0</text>
<line x1="201.80" y1="314.09" x2="203.10" y2="314.09" stroke="#1e1e1e" stroke-width="0.8"/>
<line x1="201.80" y1="312.38" x2="203.10" y2="312.38" stroke="#1e1e1e" stroke-width="0.8"/>
<line x1="201.80" y1="310.66" x2="203.10" y2="310.66" stroke="#1e1e1e" stroke-width="0.8"/>
<line x1="201.80" y1="308.95" x2="203.10" y2="308.95" stroke="#1e1e1e" stroke-width="0.8"/>
<line x1="200.50" y1="307.24" x2="203.10" y2="307.24" stroke="#1e1e1e" stroke-width="0.9"/>
<text x="197.50" y="309.73" font-size="7.02" stroke="#1e1e1e" stroke-width="0.18" text-anchor="end">10</text>
<line x1="201.80" y1="305.53" x2="203.10" y2="305.53" stroke="#1e1e1e" stroke-width="0.8"/>
<line x1="201.80" y1="303.82" x2="203.10" y2="303.82" stroke="#1e1e1e" stroke-width="0.8"/>
<line x1="201.80" y1="302.10" x2="203.10" y2="302.10" stroke="#1e1e1e" stroke-width="0.8"/>
<line x1="201.80" y1="300.39" x2="203.10" y2="300.39" stroke="#1e1e1e" stroke-width="0.8"/>
<line x1="200.50" y1="298.68" x2="203.10" y2="298.68" stroke="#1e1e1e" stroke-width="0.9"/>
<text x="197.50" y="301.17" font-size="7.02" stroke="#1e1e1e" stroke-width="0.18" text-anchor="end">20</text>
<line x1="201.80" y1="296.97" x2="203.10" y2="296.97" stroke="#1e1e1e" stroke-width="0.8"/>
<line x1="201.80" y1="295.26" x2="203.10" y2="295.26" stroke="#1e1e1e" stroke-width="0.8"/>
<line x1="201.80" y1="293.54" x2="203.10" y2="293.54" stroke="#1e1e1e" stroke-width="0.8"/>
<line x1="201.80" y1="291.83" x2="203.10" y2="291.83" stroke="#1e1e1e" stroke-width="0.8"/>
<line x1="200.50" y1="290.12" x2="203.10" y2="290.12" stroke="#1e1e1e" stroke-width="0.9"/>
<text x="197.50" y="292.61" font-size="7.02" stroke="#1e1e1e" stroke-width="0.18" text-anchor="end">30</text>
<line x1="201.80" y1="288.41" x2="203.10" y2="288.41" stroke="#1e1e1e" stroke-width="0.8"/>
<line x1="201.80" y1="286.70" x2="203.10" y2="286.70" stroke="#1e1e1e" stroke-width="0.8"/>
<line x1="201.80" y1="284.98" x2="203.10" y2="284.98" stroke="#1e1e1e" stroke-width="0.8"/>
<line x1="201.80" y1="283.27" x2="203.10" y2="283.27" stroke="#1e1e1e" stroke-width="0.8"/>
<line x1="200.50" y1="281.56" x2="203.10" y2="281.56" stroke="#1e1e1e" stroke-width="0.9"/>
<text x="197.50" y="284.05" font-size="7.02" stroke="#1e1e1e" stroke-width="0.18" text-anchor="end">40</text>
<line x1="201.80" y1="279.85" x2="203.10" y2="279.85" stroke="#1e1e1e" stroke-width="0.8"/>
<line x1="201.80" y1="278.14" x2="203.10" y2="278.14" stroke="#1e1e1e" stroke-width="0.8"/>
<line x1="201.80" y1="276.42" x2="203.10" y2="276.42" stroke="#1e1e1e" stroke-width="0.8"/>
<line x1="201.80" y1="274.71" x2="203.10" y2="274.71" stroke="#1e1e1e" stroke-width="0.8"/>
<line x1="200.50" y1="273.00" x2="203.10" y2="273.00" stroke="#1e1e1e" stroke-width="0.9"/>
<text x="197.50" y="275.49" font-size="7.02" stroke="#1e1e1e" stroke-width="0.18" text-anchor="end">50</text>
<line x1="201.80" y1="271.29" x2="203.10" y2="271.29" stroke="#1e1e1e" stroke-width="0.8"/>
<line x1="201.80" y1="269.58" x2="203.10" y2="269.58" stroke="#1e1e1e" stroke-width="0.8"/>
<line x1="201.80" y1="267.86" x2="203.10" y2="267.86" stroke="#1e1e1e" stroke-width="0.8"/>
<line x1="201.80" y1="266.15" x2="203.10" y2="266.15" stroke="#1e1e1e" stroke-width="0.8"/>
<line x1="200.50" y1="264.44" x2="203.10" y2="264.44" stroke="#1e1e1e" stroke-width="0.9"/>
<text x="197.50" y="266.93" font-size="7.02" stroke="#1e1e1e" stroke-width="0.18" text-anchor="end">60</text>
<line x1="201.80" y1="262.73" x2="203.10" y2="262.73" stroke="#1e1e1e" stroke-width="0.8"/>
<line x1="201.80" y1="261.02" x2="203.10" y2="261.02" stroke="#1e1e1e" stroke-width="0.8"/>
<line x1="201.80" y1="259.30" x2="203.10" y2="259.30" stroke="#1e1e1e" stroke-width="0.8"/>
<line x1="201.80" y1="257.59" x2="203.10" y2="257.59" stroke="#1e1e1e" stroke-width="0.8"/>
<line x1="200.50" y1="255.88" x2="203.10" y2="255.88" stroke="#1e1e1e" stroke-width="0.9"/>
<text x="197.50" y="258.37" font-size="7.02" stroke="#1e1e1e" stroke-width="0.18" text-anchor="end">70</text>
<line x1="201.80" y1="254.17" x2="203.10" y2="254.17" stroke="#1e1e1e" stroke-width="0.8"/>
<line x1="201.80" y1="252.46" x2="203.10" y2="252.46" stroke="#1e1e1e" stroke-width="0.8"/>
<line x1="201.80" y1="250.74" x2="203.10" y2="250.74" stroke="#1e1e1e" stroke-width="0.8"/>
<line x1="201.80" y1="249.03" x2="203.10" y2="249.03" stroke="#1e1e1e" stroke-width="0.8"/>
<line x1="200.50" y1="247.32" x2="203.10" y2="247.32" stroke="#1e1e1e" stroke-width="0.9"/>
<text x="197.50" y="249.81" font-size="7.02" stroke="#1e1e1e" stroke-width="0.18" text-anchor="end">80</text>
<line x1="201.80" y1="245.61" x2="203.10" y2="245.61" stroke="#1e1e1e" stroke-width="0.8"/>
<line x1="201.80" y1="243.90" x2="203.10" y2="243.90" stroke="#1e1e1e" stroke-width="0.8"/>
<line x1="201.80" y1="242.18" x2="203.10" y2="242.18" stroke="#1e1e1e" stroke-width="0.8"/>
<line x1="201.80" y1="240.47" x2="203.10" y2="240.47" stroke="#1e1e1e" stroke-width="0.8"/>
<line x1="200.50" y1="238.76" x2="203.10" y2="238.76" stroke="#1e1e1e" stroke-width="0.9"/>
<text x="197.50" y="241.25" font-size="7.02" stroke="#1e1e1e" stroke-width="0.18" text-anchor="end">90</text>
<line x1="201.80" y1="237.05" x2="203.10" y2="237.05" stroke="#1e1e1e" stroke-width="0.8"/>
<line x1="201.80" y1="235.34" x2="203.10" y2="235.34" stroke="#1e1e1e" stroke-width="0.8"/>
<line x1="201.80" y1="233.62" x2="203.10" y2="233.62" stroke="#1e1e1e" stroke-width="0.8"/>
<line x1="201.80" y1="231.91" x2="203.10" y2="231.91" stroke="#1e1e1e" stroke-width="0.8"/>
<line x1="200.50" y1="230.20" x2="203.10" y2="230.20" stroke="#1e1e1e" stroke-width="0.9"/>
<text x="197.50" y="232.69" font-size="7.02" stroke="#1e1e1e" stroke-width="0.18" text-anchor="end">100</text>
<line x1="202.50" y1="315.80" x2="317.20" y2="315.80" stroke="#1e1e1e" stroke-width="1.4"/>
<line x1="202.80" y1="315.80" x2="202.80" y2="318.40" stroke="#1e1e1e" stroke-width="0.9"/>
<text x="202.80" y="325.91" font-size="7.34" stroke="#1e1e1e" stroke-width="0.18" text-anchor="middle">20</text>
<line x1="206.72" y1="315.80" x2="206.72" y2="317.20" stroke="#1e1e1e" stroke-width="0.8"/>
<line x1="210.64" y1="315.80" x2="210.64" y2="317.20" stroke="#1e1e1e" stroke-width="0.8"/>
<line x1="214.56" y1="315.80" x2="214.56" y2="317.20" stroke="#1e1e1e" stroke-width="0.8"/>
<line x1="218.48" y1="315.80" x2="218.48" y2="317.20" stroke="#1e1e1e" stroke-width="0.8"/>
<line x1="222.40" y1="315.80" x2="222.40" y2="318.40" stroke="#1e1e1e" stroke-width="0.9"/>
<text x="222.40" y="325.91" font-size="7.34" stroke="#1e1e1e" stroke-width="0.18" text-anchor="middle">30</text>
<line x1="226.32" y1="315.80" x2="226.32" y2="317.20" stroke="#1e1e1e" stroke-width="0.8"/>
<line x1="230.24" y1="315.80" x2="230.24" y2="317.20" stroke="#1e1e1e" stroke-width="0.8"/>
<line x1="234.16" y1="315.80" x2="234.16" y2="317.20" stroke="#1e1e1e" stroke-width="0.8"/>
<line x1="238.08" y1="315.80" x2="238.08" y2="317.20" stroke="#1e1e1e" stroke-width="0.8"/>
<line x1="242.00" y1="315.80" x2="242.00" y2="318.40" stroke="#1e1e1e" stroke-width="0.9"/>
<text x="242.00" y="325.91" font-size="7.34" stroke="#1e1e1e" stroke-width="0.18" text-anchor="middle">40</text>
<line x1="245.92" y1="315.80" x2="245.92" y2="317.20" stroke="#1e1e1e" stroke-width="0.8"/>
<line x1="249.84" y1="315.80" x2="249.84" y2="317.20" stroke="#1e1e1e" stroke-width="0.8"/>
<line x1="253.76" y1="315.80" x2="253.76" y2="317.20" stroke="#1e1e1e" stroke-width="0.8"/>
<line x1="257.68" y1="315.80" x2="257.68" y2="317.20" stroke="#1e1e1e" stroke-width="0.8"/>
<line x1="261.60" y1="315.80" x2="261.60" y2="318.40" stroke="#1e1e1e" stroke-width="0.9"/>
<text x="261.60" y="325.91" font-size="7.34" stroke="#1e1e1e" stroke-width="0.18" text-anchor="middle">50</text>
<line x1="265.52" y1="315.80" x2="265.52" y2="317.20" stroke="#1e1e1e" stroke-width="0.8"/>
<line x1="269.44" y1="315.80" x2="269.44" y2="317.20" stroke="#1e1e1e" stroke-width="0.8"/>
<line x1="273.36" y1="315.80" x2="273.36" y2="317.20" stroke="#1e1e1e" stroke-width="0.8"/>
<line x1="277.28" y1="315.80" x2="277.28" y2="317.20" stroke="#1e1e1e" stroke-width="0.8"/>
<line x1="281.20" y1="315.80" x2="281.20" y2="318.40" stroke="#1e1e1e" stroke-width="0.9"/>
<text x="281.20" y="325.91" font-size="7.34" stroke="#1e1e1e" stroke-width="0.18" text-anchor="middle">60</text>
<line x1="285.12" y1="315.80" x2="285.12" y2="317.20" stroke="#1e1e1e" stroke-width="0.8"/>
<line x1="289.04" y1="315.80" x2="289.04" y2="317.20" stroke="#1e1e1e" stroke-width="0.8"/>
<line x1="292.96" y1="315.80" x2="292.96" y2="317.20" stroke="#1e1e1e" stroke-width="0.8"/>
<line x1="296.88" y1="315.80" x2="296.88" y2="317.20" stroke="#1e1e1e" stroke-width="0.8"/>
<line x1="300.80" y1="315.80" x2="300.80" y2="318.40" stroke="#1e1e1e" stroke-width="0.9"/>
<text x="300.80" y="325.91" font-size="7.34" stroke="#1e1e1e" stroke-width="0.18" text-anchor="middle">70</text>
<line x1="304.72" y1="315.80" x2="304.72" y2="317.20" stroke="#1e1e1e" stroke-width="0.8"/>
<line x1="308.64" y1="315.80" x2="308.64" y2="317.20" stroke="#1e1e1e" stroke-width="0.8"/>
<line x1="312.56" y1="315.80" x2="312.56" y2="317.20" stroke="#1e1e1e" stroke-width="0.8"/>
<line x1="316.48" y1="315.80" x2="316.48" y2="317.20" stroke="#1e1e1e" stroke-width="0.8"/>
<line x1="227.97" y1="315.80" x2="227.97" y2="286.00" stroke="#c8102e" stroke-width="1.2"/>
<line x1="234.94" y1="315.80" x2="234.94" y2="286.00" stroke="#c8102e" stroke-width="1.2"/>
<line x1="270.17" y1="315.80" x2="270.17" y2="258.70" stroke="#c8102e" stroke-width="1.2"/>
<text x="222.20" y="283.69" font-size="7.02" stroke="#1e1e1e" stroke-width="0.18" text-anchor="middle" textLength="18.30" lengthAdjust="spacingAndGlyphs">32.84</text>
<text x="242.40" y="283.69" font-size="7.02" stroke="#1e1e1e" stroke-width="0.18" text-anchor="middle" textLength="18.20" lengthAdjust="spacingAndGlyphs">36.40</text>
<text x="272.80" y="254.39" font-size="7.02" stroke="#1e1e1e" stroke-width="0.18" text-anchor="middle" textLength="18.60" lengthAdjust="spacingAndGlyphs">54.37</text>
<text x="241.80" y="270.89" font-size="7.02" stroke="#1e1e1e" stroke-width="0.18" textLength="17.60" lengthAdjust="spacingAndGlyphs">54.31</text>
<line x1="261.30" y1="268.40" x2="269.00" y2="268.40" stroke="#1e1e1e" stroke-width="0.9"/>
<text x="271.10" y="231.15" font-size="8.6" stroke="#c8102e" stroke-width="0.15" text-anchor="middle" fill="#c8102e" textLength="33.30" lengthAdjust="spacingAndGlyphs">PAR4-C</text>
<line x1="270.30" y1="233.80" x2="270.30" y2="242.00" stroke="#1e1e1e" stroke-width="1.0"/>
<path d="M268.0,239.6 L270.3,244.0 L272.6,239.6 Z" fill="#1e1e1e"/>
<text x="254.60" y="336.65" font-size="8.3" stroke="#1e1e1e" stroke-width="0.45" text-anchor="middle" textLength="30.80" lengthAdjust="spacingAndGlyphs">Time (min)</text>
<text x="183.90" y="273.20" font-size="8.6" stroke="#1e1e1e" stroke-width="0.45" text-anchor="middle" textLength="53.80" lengthAdjust="spacingAndGlyphs" transform="rotate(-90 183.90 273.20)">Relative abundance</text>
<text x="372.30" y="220.88" font-size="8.4" stroke="#1e1e1e" stroke-width="0.18" text-anchor="middle" textLength="50.30" lengthAdjust="spacingAndGlyphs">Experimental</text>
<line x1="359.20" y1="227.00" x2="359.20" y2="280.40" stroke="#1e1e1e" stroke-width="1.4"/>
<line x1="355.70" y1="279.80" x2="359.20" y2="279.80" stroke="#1e1e1e" stroke-width="0.9"/>
<text x="353.90" y="282.41" font-size="7.34" stroke="#1e1e1e" stroke-width="0.18" text-anchor="end">0</text>
<line x1="357.20" y1="277.85" x2="359.20" y2="277.85" stroke="#1e1e1e" stroke-width="0.8"/>
<line x1="357.20" y1="275.90" x2="359.20" y2="275.90" stroke="#1e1e1e" stroke-width="0.8"/>
<line x1="357.20" y1="273.96" x2="359.20" y2="273.96" stroke="#1e1e1e" stroke-width="0.8"/>
<line x1="357.20" y1="272.01" x2="359.20" y2="272.01" stroke="#1e1e1e" stroke-width="0.8"/>
<line x1="355.70" y1="270.06" x2="359.20" y2="270.06" stroke="#1e1e1e" stroke-width="0.9"/>
<text x="353.90" y="272.67" font-size="7.34" stroke="#1e1e1e" stroke-width="0.18" text-anchor="end">20</text>
<line x1="357.20" y1="268.11" x2="359.20" y2="268.11" stroke="#1e1e1e" stroke-width="0.8"/>
<line x1="357.20" y1="266.16" x2="359.20" y2="266.16" stroke="#1e1e1e" stroke-width="0.8"/>
<line x1="357.20" y1="264.22" x2="359.20" y2="264.22" stroke="#1e1e1e" stroke-width="0.8"/>
<line x1="357.20" y1="262.27" x2="359.20" y2="262.27" stroke="#1e1e1e" stroke-width="0.8"/>
<line x1="355.70" y1="260.32" x2="359.20" y2="260.32" stroke="#1e1e1e" stroke-width="0.9"/>
<text x="353.90" y="262.93" font-size="7.34" stroke="#1e1e1e" stroke-width="0.18" text-anchor="end">40</text>
<line x1="357.20" y1="258.37" x2="359.20" y2="258.37" stroke="#1e1e1e" stroke-width="0.8"/>
<line x1="357.20" y1="256.42" x2="359.20" y2="256.42" stroke="#1e1e1e" stroke-width="0.8"/>
<line x1="357.20" y1="254.48" x2="359.20" y2="254.48" stroke="#1e1e1e" stroke-width="0.8"/>
<line x1="357.20" y1="252.53" x2="359.20" y2="252.53" stroke="#1e1e1e" stroke-width="0.8"/>
<line x1="355.70" y1="250.58" x2="359.20" y2="250.58" stroke="#1e1e1e" stroke-width="0.9"/>
<text x="353.90" y="253.19" font-size="7.34" stroke="#1e1e1e" stroke-width="0.18" text-anchor="end">60</text>
<line x1="357.20" y1="248.63" x2="359.20" y2="248.63" stroke="#1e1e1e" stroke-width="0.8"/>
<line x1="357.20" y1="246.68" x2="359.20" y2="246.68" stroke="#1e1e1e" stroke-width="0.8"/>
<line x1="357.20" y1="244.74" x2="359.20" y2="244.74" stroke="#1e1e1e" stroke-width="0.8"/>
<line x1="357.20" y1="242.79" x2="359.20" y2="242.79" stroke="#1e1e1e" stroke-width="0.8"/>
<line x1="355.70" y1="240.84" x2="359.20" y2="240.84" stroke="#1e1e1e" stroke-width="0.9"/>
<text x="353.90" y="243.45" font-size="7.34" stroke="#1e1e1e" stroke-width="0.18" text-anchor="end">80</text>
<line x1="357.20" y1="238.89" x2="359.20" y2="238.89" stroke="#1e1e1e" stroke-width="0.8"/>
<line x1="357.20" y1="236.94" x2="359.20" y2="236.94" stroke="#1e1e1e" stroke-width="0.8"/>
<line x1="357.20" y1="235.00" x2="359.20" y2="235.00" stroke="#1e1e1e" stroke-width="0.8"/>
<line x1="357.20" y1="233.05" x2="359.20" y2="233.05" stroke="#1e1e1e" stroke-width="0.8"/>
<line x1="355.70" y1="231.10" x2="359.20" y2="231.10" stroke="#1e1e1e" stroke-width="0.9"/>
<text x="353.90" y="233.71" font-size="7.34" stroke="#1e1e1e" stroke-width="0.18" text-anchor="end">100</text>
<line x1="358.60" y1="279.80" x2="479.40" y2="279.80" stroke="#1e1e1e" stroke-width="1.4"/>
<line x1="359.20" y1="279.80" x2="359.20" y2="282.40" stroke="#1e1e1e" stroke-width="0.9"/>
<text x="359.20" y="292.91" font-size="7.34" stroke="#1e1e1e" stroke-width="0.18" text-anchor="middle">588</text>
<line x1="363.08" y1="279.80" x2="363.08" y2="281.30" stroke="#1e1e1e" stroke-width="0.8"/>
<line x1="366.96" y1="279.80" x2="366.96" y2="281.30" stroke="#1e1e1e" stroke-width="0.8"/>
<line x1="370.84" y1="279.80" x2="370.84" y2="281.30" stroke="#1e1e1e" stroke-width="0.8"/>
<line x1="374.72" y1="279.80" x2="374.72" y2="281.30" stroke="#1e1e1e" stroke-width="0.8"/>
<line x1="378.60" y1="279.80" x2="378.60" y2="282.40" stroke="#1e1e1e" stroke-width="0.9"/>
<text x="378.60" y="292.91" font-size="7.34" stroke="#1e1e1e" stroke-width="0.18" text-anchor="middle">589</text>
<line x1="382.48" y1="279.80" x2="382.48" y2="281.30" stroke="#1e1e1e" stroke-width="0.8"/>
<line x1="386.36" y1="279.80" x2="386.36" y2="281.30" stroke="#1e1e1e" stroke-width="0.8"/>
<line x1="390.24" y1="279.80" x2="390.24" y2="281.30" stroke="#1e1e1e" stroke-width="0.8"/>
<line x1="394.12" y1="279.80" x2="394.12" y2="281.30" stroke="#1e1e1e" stroke-width="0.8"/>
<line x1="398.00" y1="279.80" x2="398.00" y2="282.40" stroke="#1e1e1e" stroke-width="0.9"/>
<text x="398.00" y="292.91" font-size="7.34" stroke="#1e1e1e" stroke-width="0.18" text-anchor="middle">590</text>
<line x1="401.88" y1="279.80" x2="401.88" y2="281.30" stroke="#1e1e1e" stroke-width="0.8"/>
<line x1="405.76" y1="279.80" x2="405.76" y2="281.30" stroke="#1e1e1e" stroke-width="0.8"/>
<line x1="409.64" y1="279.80" x2="409.64" y2="281.30" stroke="#1e1e1e" stroke-width="0.8"/>
<line x1="413.52" y1="279.80" x2="413.52" y2="281.30" stroke="#1e1e1e" stroke-width="0.8"/>
<line x1="417.40" y1="279.80" x2="417.40" y2="282.40" stroke="#1e1e1e" stroke-width="0.9"/>
<text x="417.40" y="292.91" font-size="7.34" stroke="#1e1e1e" stroke-width="0.18" text-anchor="middle">591</text>
<line x1="421.28" y1="279.80" x2="421.28" y2="281.30" stroke="#1e1e1e" stroke-width="0.8"/>
<line x1="425.16" y1="279.80" x2="425.16" y2="281.30" stroke="#1e1e1e" stroke-width="0.8"/>
<line x1="429.04" y1="279.80" x2="429.04" y2="281.30" stroke="#1e1e1e" stroke-width="0.8"/>
<line x1="432.92" y1="279.80" x2="432.92" y2="281.30" stroke="#1e1e1e" stroke-width="0.8"/>
<line x1="436.80" y1="279.80" x2="436.80" y2="282.40" stroke="#1e1e1e" stroke-width="0.9"/>
<text x="436.80" y="292.91" font-size="7.34" stroke="#1e1e1e" stroke-width="0.18" text-anchor="middle">592</text>
<line x1="440.68" y1="279.80" x2="440.68" y2="281.30" stroke="#1e1e1e" stroke-width="0.8"/>
<line x1="444.56" y1="279.80" x2="444.56" y2="281.30" stroke="#1e1e1e" stroke-width="0.8"/>
<line x1="448.44" y1="279.80" x2="448.44" y2="281.30" stroke="#1e1e1e" stroke-width="0.8"/>
<line x1="452.32" y1="279.80" x2="452.32" y2="281.30" stroke="#1e1e1e" stroke-width="0.8"/>
<line x1="456.20" y1="279.80" x2="456.20" y2="282.40" stroke="#1e1e1e" stroke-width="0.9"/>
<text x="456.20" y="292.91" font-size="7.34" stroke="#1e1e1e" stroke-width="0.18" text-anchor="middle">593</text>
<line x1="460.08" y1="279.80" x2="460.08" y2="281.30" stroke="#1e1e1e" stroke-width="0.8"/>
<line x1="463.96" y1="279.80" x2="463.96" y2="281.30" stroke="#1e1e1e" stroke-width="0.8"/>
<line x1="467.84" y1="279.80" x2="467.84" y2="281.30" stroke="#1e1e1e" stroke-width="0.8"/>
<line x1="471.72" y1="279.80" x2="471.72" y2="281.30" stroke="#1e1e1e" stroke-width="0.8"/>
<line x1="475.60" y1="279.80" x2="475.60" y2="282.40" stroke="#1e1e1e" stroke-width="0.9"/>
<text x="475.60" y="292.91" font-size="7.34" stroke="#1e1e1e" stroke-width="0.18" text-anchor="middle">594</text>
<path d="M364.75,279.80 L365.00,275.17 L366.20,275.17 L366.45,279.80 Z" fill="#c8102e"/>
<path d="M374.26,279.80 L374.51,277.36 L375.71,277.36 L375.96,279.80 Z" fill="#c8102e"/>
<path d="M379.50,279.80 L379.75,274.93 L380.95,274.93 L381.20,279.80 Z" fill="#c8102e"/>
<path d="M383.57,279.80 L383.82,279.22 L385.02,279.22 L385.27,279.80 Z" fill="#c8102e"/>
<path d="M394.24,279.80 L394.49,279.22 L395.69,279.22 L395.94,279.80 Z" fill="#c8102e"/>
<path d="M399.09,279.80 L399.34,279.22 L400.54,279.22 L400.79,279.80 Z" fill="#c8102e"/>
<path d="M458.45,279.80 L458.70,231.06 L459.90,231.06 L460.15,279.80 Z" fill="#c8102e"/>
<text x="462.40" y="228.79" font-size="7.02" stroke="#1e1e1e" stroke-width="0.18" text-anchor="middle" textLength="22.20" lengthAdjust="spacingAndGlyphs">593.16</text>
<text x="461.20" y="256.89" font-size="7.02" stroke="#1e1e1e" stroke-width="0.18" textLength="22.40" lengthAdjust="spacingAndGlyphs">593.33</text>
<text x="365.8" y="273.0" font-size="6.5" textLength="22.5" lengthAdjust="spacingAndGlyphs" transform="rotate(-45 365.8 273.0)" fill="#1e1e1e" stroke="#1e1e1e" stroke-width="0.18">588.33</text>
<text x="380.4" y="273.0" font-size="6.5" textLength="22.5" lengthAdjust="spacingAndGlyphs" transform="rotate(-45 380.4 273.0)" fill="#1e1e1e" stroke="#1e1e1e" stroke-width="0.18">589.09</text>
<text x="421.40" y="302.95" font-size="8.3" stroke="#1e1e1e" stroke-width="0.15" text-anchor="middle" textLength="11.00" lengthAdjust="spacingAndGlyphs">m/z</text>
<text x="335.20" y="254.20" font-size="8.6" stroke="#1e1e1e" stroke-width="0.45" text-anchor="middle" textLength="54.30" lengthAdjust="spacingAndGlyphs" transform="rotate(-90 335.20 254.20)">Relative abundance</text>
<text x="7.8" y="385.7" font-size="10.2" font-weight="bold" fill="#000" stroke="#000" stroke-width="0.35">G</text>
<text x="20.70" y="401.15" font-size="8.6" stroke="#1e1e1e" stroke-width="0.18" textLength="32.60" lengthAdjust="spacingAndGlyphs">PAR4-C</text>
<text x="20.70" y="412.25" font-size="8.6" stroke="#1e1e1e" stroke-width="0.18" textLength="21.10" lengthAdjust="spacingAndGlyphs">CatG</text>
<line x1="36.00" y1="430.00" x2="36.00" y2="516.60" stroke="#1e1e1e" stroke-width="1.4"/>
<line x1="33.40" y1="516.00" x2="36.00" y2="516.00" stroke="#1e1e1e" stroke-width="0.9"/>
<text x="30.90" y="518.53" font-size="7.13" stroke="#1e1e1e" stroke-width="0.18" text-anchor="end">0</text>
<line x1="34.70" y1="514.36" x2="36.00" y2="514.36" stroke="#1e1e1e" stroke-width="0.8"/>
<line x1="34.70" y1="512.72" x2="36.00" y2="512.72" stroke="#1e1e1e" stroke-width="0.8"/>
<line x1="34.70" y1="511.08" x2="36.00" y2="511.08" stroke="#1e1e1e" stroke-width="0.8"/>
<line x1="34.70" y1="509.44" x2="36.00" y2="509.44" stroke="#1e1e1e" stroke-width="0.8"/>
<line x1="33.40" y1="507.80" x2="36.00" y2="507.80" stroke="#1e1e1e" stroke-width="0.9"/>
<text x="30.90" y="510.33" font-size="7.13" stroke="#1e1e1e" stroke-width="0.18" text-anchor="end">10</text>
<line x1="34.70" y1="506.16" x2="36.00" y2="506.16" stroke="#1e1e1e" stroke-width="0.8"/>
<line x1="34.70" y1="504.52" x2="36.00" y2="504.52" stroke="#1e1e1e" stroke-width="0.8"/>
<line x1="34.70" y1="502.88" x2="36.00" y2="502.88" stroke="#1e1e1e" stroke-width="0.8"/>
<line x1="34.70" y1="501.24" x2="36.00" y2="501.24" stroke="#1e1e1e" stroke-width="0.8"/>
<line x1="33.40" y1="499.60" x2="36.00" y2="499.60" stroke="#1e1e1e" stroke-width="0.9"/>
<text x="30.90" y="502.13" font-size="7.13" stroke="#1e1e1e" stroke-width="0.18" text-anchor="end">20</text>
<line x1="34.70" y1="497.96" x2="36.00" y2="497.96" stroke="#1e1e1e" stroke-width="0.8"/>
<line x1="34.70" y1="496.32" x2="36.00" y2="496.32" stroke="#1e1e1e" stroke-width="0.8"/>
<line x1="34.70" y1="494.68" x2="36.00" y2="494.68" stroke="#1e1e1e" stroke-width="0.8"/>
<line x1="34.70" y1="493.04" x2="36.00" y2="493.04" stroke="#1e1e1e" stroke-width="0.8"/>
<line x1="33.40" y1="491.40" x2="36.00" y2="491.40" stroke="#1e1e1e" stroke-width="0.9"/>
<text x="30.90" y="493.93" font-size="7.13" stroke="#1e1e1e" stroke-width="0.18" text-anchor="end">30</text>
<line x1="34.70" y1="489.76" x2="36.00" y2="489.76" stroke="#1e1e1e" stroke-width="0.8"/>
<line x1="34.70" y1="488.12" x2="36.00" y2="488.12" stroke="#1e1e1e" stroke-width="0.8"/>
<line x1="34.70" y1="486.48" x2="36.00" y2="486.48" stroke="#1e1e1e" stroke-width="0.8"/>
<line x1="34.70" y1="484.84" x2="36.00" y2="484.84" stroke="#1e1e1e" stroke-width="0.8"/>
<line x1="33.40" y1="483.20" x2="36.00" y2="483.20" stroke="#1e1e1e" stroke-width="0.9"/>
<text x="30.90" y="485.73" font-size="7.13" stroke="#1e1e1e" stroke-width="0.18" text-anchor="end">40</text>
<line x1="34.70" y1="481.56" x2="36.00" y2="481.56" stroke="#1e1e1e" stroke-width="0.8"/>
<line x1="34.70" y1="479.92" x2="36.00" y2="479.92" stroke="#1e1e1e" stroke-width="0.8"/>
<line x1="34.70" y1="478.28" x2="36.00" y2="478.28" stroke="#1e1e1e" stroke-width="0.8"/>
<line x1="34.70" y1="476.64" x2="36.00" y2="476.64" stroke="#1e1e1e" stroke-width="0.8"/>
<line x1="33.40" y1="475.00" x2="36.00" y2="475.00" stroke="#1e1e1e" stroke-width="0.9"/>
<text x="30.90" y="477.53" font-size="7.13" stroke="#1e1e1e" stroke-width="0.18" text-anchor="end">50</text>
<line x1="34.70" y1="473.36" x2="36.00" y2="473.36" stroke="#1e1e1e" stroke-width="0.8"/>
<line x1="34.70" y1="471.72" x2="36.00" y2="471.72" stroke="#1e1e1e" stroke-width="0.8"/>
<line x1="34.70" y1="470.08" x2="36.00" y2="470.08" stroke="#1e1e1e" stroke-width="0.8"/>
<line x1="34.70" y1="468.44" x2="36.00" y2="468.44" stroke="#1e1e1e" stroke-width="0.8"/>
<line x1="33.40" y1="466.80" x2="36.00" y2="466.80" stroke="#1e1e1e" stroke-width="0.9"/>
<text x="30.90" y="469.33" font-size="7.13" stroke="#1e1e1e" stroke-width="0.18" text-anchor="end">60</text>
<line x1="34.70" y1="465.16" x2="36.00" y2="465.16" stroke="#1e1e1e" stroke-width="0.8"/>
<line x1="34.70" y1="463.52" x2="36.00" y2="463.52" stroke="#1e1e1e" stroke-width="0.8"/>
<line x1="34.70" y1="461.88" x2="36.00" y2="461.88" stroke="#1e1e1e" stroke-width="0.8"/>
<line x1="34.70" y1="460.24" x2="36.00" y2="460.24" stroke="#1e1e1e" stroke-width="0.8"/>
<line x1="33.40" y1="458.60" x2="36.00" y2="458.60" stroke="#1e1e1e" stroke-width="0.9"/>
<text x="30.90" y="461.13" font-size="7.13" stroke="#1e1e1e" stroke-width="0.18" text-anchor="end">70</text>
<line x1="34.70" y1="456.96" x2="36.00" y2="456.96" stroke="#1e1e1e" stroke-width="0.8"/>
<line x1="34.70" y1="455.32" x2="36.00" y2="455.32" stroke="#1e1e1e" stroke-width="0.8"/>
<line x1="34.70" y1="453.68" x2="36.00" y2="453.68" stroke="#1e1e1e" stroke-width="0.8"/>
<line x1="34.70" y1="452.04" x2="36.00" y2="452.04" stroke="#1e1e1e" stroke-width="0.8"/>
<line x1="33.40" y1="450.40" x2="36.00" y2="450.40" stroke="#1e1e1e" stroke-width="0.9"/>
<text x="30.90" y="452.93" font-size="7.13" stroke="#1e1e1e" stroke-width="0.18" text-anchor="end">80</text>
<line x1="34.70" y1="448.76" x2="36.00" y2="448.76" stroke="#1e1e1e" stroke-width="0.8"/>
<line x1="34.70" y1="447.12" x2="36.00" y2="447.12" stroke="#1e1e1e" stroke-width="0.8"/>
<line x1="34.70" y1="445.48" x2="36.00" y2="445.48" stroke="#1e1e1e" stroke-width="0.8"/>
<line x1="34.70" y1="443.84" x2="36.00" y2="443.84" stroke="#1e1e1e" stroke-width="0.8"/>
<line x1="33.40" y1="442.20" x2="36.00" y2="442.20" stroke="#1e1e1e" stroke-width="0.9"/>
<text x="30.90" y="444.73" font-size="7.13" stroke="#1e1e1e" stroke-width="0.18" text-anchor="end">90</text>
<line x1="34.70" y1="440.56" x2="36.00" y2="440.56" stroke="#1e1e1e" stroke-width="0.8"/>
<line x1="34.70" y1="438.92" x2="36.00" y2="438.92" stroke="#1e1e1e" stroke-width="0.8"/>
<line x1="34.70" y1="437.28" x2="36.00" y2="437.28" stroke="#1e1e1e" stroke-width="0.8"/>
<line x1="34.70" y1="435.64" x2="36.00" y2="435.64" stroke="#1e1e1e" stroke-width="0.8"/>
<line x1="33.40" y1="434.00" x2="36.00" y2="434.00" stroke="#1e1e1e" stroke-width="0.9"/>
<text x="30.90" y="436.53" font-size="7.13" stroke="#1e1e1e" stroke-width="0.18" text-anchor="end">100</text>
<line x1="35.40" y1="516.00" x2="145.70" y2="516.00" stroke="#1e1e1e" stroke-width="1.4"/>
<line x1="36.00" y1="516.00" x2="36.00" y2="518.60" stroke="#1e1e1e" stroke-width="0.9"/>
<text x="36.00" y="526.44" font-size="7.45" stroke="#1e1e1e" stroke-width="0.18" text-anchor="middle">20</text>
<line x1="39.92" y1="516.00" x2="39.92" y2="517.40" stroke="#1e1e1e" stroke-width="0.8"/>
<line x1="43.84" y1="516.00" x2="43.84" y2="517.40" stroke="#1e1e1e" stroke-width="0.8"/>
<line x1="47.76" y1="516.00" x2="47.76" y2="517.40" stroke="#1e1e1e" stroke-width="0.8"/>
<line x1="51.68" y1="516.00" x2="51.68" y2="517.40" stroke="#1e1e1e" stroke-width="0.8"/>
<line x1="55.60" y1="516.00" x2="55.60" y2="518.60" stroke="#1e1e1e" stroke-width="0.9"/>
<text x="55.60" y="526.44" font-size="7.45" stroke="#1e1e1e" stroke-width="0.18" text-anchor="middle">30</text>
<line x1="59.52" y1="516.00" x2="59.52" y2="517.40" stroke="#1e1e1e" stroke-width="0.8"/>
<line x1="63.44" y1="516.00" x2="63.44" y2="517.40" stroke="#1e1e1e" stroke-width="0.8"/>
<line x1="67.36" y1="516.00" x2="67.36" y2="517.40" stroke="#1e1e1e" stroke-width="0.8"/>
<line x1="71.28" y1="516.00" x2="71.28" y2="517.40" stroke="#1e1e1e" stroke-width="0.8"/>
<line x1="75.20" y1="516.00" x2="75.20" y2="518.60" stroke="#1e1e1e" stroke-width="0.9"/>
<text x="75.20" y="526.44" font-size="7.45" stroke="#1e1e1e" stroke-width="0.18" text-anchor="middle">40</text>
<line x1="79.12" y1="516.00" x2="79.12" y2="517.40" stroke="#1e1e1e" stroke-width="0.8"/>
<line x1="83.04" y1="516.00" x2="83.04" y2="517.40" stroke="#1e1e1e" stroke-width="0.8"/>
<line x1="86.96" y1="516.00" x2="86.96" y2="517.40" stroke="#1e1e1e" stroke-width="0.8"/>
<line x1="90.88" y1="516.00" x2="90.88" y2="517.40" stroke="#1e1e1e" stroke-width="0.8"/>
<line x1="94.80" y1="516.00" x2="94.80" y2="518.60" stroke="#1e1e1e" stroke-width="0.9"/>
<text x="94.80" y="526.44" font-size="7.45" stroke="#1e1e1e" stroke-width="0.18" text-anchor="middle">50</text>
<line x1="98.72" y1="516.00" x2="98.72" y2="517.40" stroke="#1e1e1e" stroke-width="0.8"/>
<line x1="102.64" y1="516.00" x2="102.64" y2="517.40" stroke="#1e1e1e" stroke-width="0.8"/>
<line x1="106.56" y1="516.00" x2="106.56" y2="517.40" stroke="#1e1e1e" stroke-width="0.8"/>
<line x1="110.48" y1="516.00" x2="110.48" y2="517.40" stroke="#1e1e1e" stroke-width="0.8"/>
<line x1="114.40" y1="516.00" x2="114.40" y2="518.60" stroke="#1e1e1e" stroke-width="0.9"/>
<text x="114.40" y="526.44" font-size="7.45" stroke="#1e1e1e" stroke-width="0.18" text-anchor="middle">60</text>
<line x1="118.32" y1="516.00" x2="118.32" y2="517.40" stroke="#1e1e1e" stroke-width="0.8"/>
<line x1="122.24" y1="516.00" x2="122.24" y2="517.40" stroke="#1e1e1e" stroke-width="0.8"/>
<line x1="126.16" y1="516.00" x2="126.16" y2="517.40" stroke="#1e1e1e" stroke-width="0.8"/>
<line x1="130.08" y1="516.00" x2="130.08" y2="517.40" stroke="#1e1e1e" stroke-width="0.8"/>
<line x1="134.00" y1="516.00" x2="134.00" y2="518.60" stroke="#1e1e1e" stroke-width="0.9"/>
<text x="134.00" y="526.44" font-size="7.45" stroke="#1e1e1e" stroke-width="0.18" text-anchor="middle">70</text>
<line x1="137.92" y1="516.00" x2="137.92" y2="517.40" stroke="#1e1e1e" stroke-width="0.8"/>
<line x1="141.84" y1="516.00" x2="141.84" y2="517.40" stroke="#1e1e1e" stroke-width="0.8"/>
<line x1="36.50" y1="515.00" x2="145.70" y2="515.00" stroke="#e0a0aa" stroke-width="0.5"/>
<line x1="103.60" y1="515.60" x2="103.60" y2="434.10" stroke="#c8102e" stroke-width="1.6"/>
<path d="M102.8,515.6 L104.4,505 L105.8,515.6 Z" fill="#c8102e"/>
<line x1="113.20" y1="515.50" x2="113.20" y2="514.00" stroke="#c8102e" stroke-width="1.0"/>
<text x="107.90" y="421.99" font-size="7.02" stroke="#1e1e1e" stroke-width="0.18" text-anchor="middle" textLength="26.10" lengthAdjust="spacingAndGlyphs">54.1187</text>
<text x="105.20" y="430.49" font-size="7.02" stroke="#1e1e1e" stroke-width="0.18" text-anchor="middle" textLength="30.50" lengthAdjust="spacingAndGlyphs">589.7557</text>
<text x="58.30" y="448.79" font-size="7.02" stroke="#1e1e1e" stroke-width="0.18" textLength="26.10" lengthAdjust="spacingAndGlyphs">54.0354</text>
<text x="58.30" y="457.39" font-size="7.02" stroke="#1e1e1e" stroke-width="0.18" textLength="30.50" lengthAdjust="spacingAndGlyphs">589.7559</text>
<line x1="91.20" y1="447.60" x2="101.00" y2="447.60" stroke="#1e1e1e" stroke-width="0.9"/>
<text x="114.50" y="398.15" font-size="8.6" stroke="#c8102e" stroke-width="0.1" text-anchor="middle" fill="#c8102e" textLength="57.10" lengthAdjust="spacingAndGlyphs">DSDTLELPSS</text>
<line x1="116.10" y1="401.00" x2="116.10" y2="409.00" stroke="#1e1e1e" stroke-width="1.0"/>
<path d="M113.8,406.8 L116.1,411.4 L118.4,406.8 Z" fill="#1e1e1e"/>
<text x="13.90" y="473.50" font-size="8.6" stroke="#1e1e1e" stroke-width="0.45" text-anchor="middle" textLength="55.70" lengthAdjust="spacingAndGlyphs" transform="rotate(-90 13.90 473.50)">Relative abundance</text>
<text x="258.20" y="365.78" font-size="8.4" stroke="#1e1e1e" stroke-width="0.18" text-anchor="middle" textLength="109.90" lengthAdjust="spacingAndGlyphs">Experimental DSDTLELPSS</text>
<line x1="200.50" y1="377.00" x2="200.50" y2="430.80" stroke="#1e1e1e" stroke-width="1.4"/>
<line x1="197.00" y1="430.20" x2="200.50" y2="430.20" stroke="#1e1e1e" stroke-width="0.9"/>
<text x="195.20" y="432.81" font-size="7.34" stroke="#1e1e1e" stroke-width="0.18" text-anchor="end">0</text>
<line x1="198.50" y1="428.26" x2="200.50" y2="428.26" stroke="#1e1e1e" stroke-width="0.8"/>
<line x1="198.50" y1="426.31" x2="200.50" y2="426.31" stroke="#1e1e1e" stroke-width="0.8"/>
<line x1="198.50" y1="424.37" x2="200.50" y2="424.37" stroke="#1e1e1e" stroke-width="0.8"/>
<line x1="198.50" y1="422.42" x2="200.50" y2="422.42" stroke="#1e1e1e" stroke-width="0.8"/>
<line x1="197.00" y1="420.48" x2="200.50" y2="420.48" stroke="#1e1e1e" stroke-width="0.9"/>
<text x="195.20" y="423.09" font-size="7.34" stroke="#1e1e1e" stroke-width="0.18" text-anchor="end">20</text>
<line x1="198.50" y1="418.54" x2="200.50" y2="418.54" stroke="#1e1e1e" stroke-width="0.8"/>
<line x1="198.50" y1="416.59" x2="200.50" y2="416.59" stroke="#1e1e1e" stroke-width="0.8"/>
<line x1="198.50" y1="414.65" x2="200.50" y2="414.65" stroke="#1e1e1e" stroke-width="0.8"/>
<line x1="198.50" y1="412.70" x2="200.50" y2="412.70" stroke="#1e1e1e" stroke-width="0.8"/>
<line x1="197.00" y1="410.76" x2="200.50" y2="410.76" stroke="#1e1e1e" stroke-width="0.9"/>
<text x="195.20" y="413.37" font-size="7.34" stroke="#1e1e1e" stroke-width="0.18" text-anchor="end">40</text>
<line x1="198.50" y1="408.82" x2="200.50" y2="408.82" stroke="#1e1e1e" stroke-width="0.8"/>
<line x1="198.50" y1="406.87" x2="200.50" y2="406.87" stroke="#1e1e1e" stroke-width="0.8"/>
<line x1="198.50" y1="404.93" x2="200.50" y2="404.93" stroke="#1e1e1e" stroke-width="0.8"/>
<line x1="198.50" y1="402.98" x2="200.50" y2="402.98" stroke="#1e1e1e" stroke-width="0.8"/>
<line x1="197.00" y1="401.04" x2="200.50" y2="401.04" stroke="#1e1e1e" stroke-width="0.9"/>
<text x="195.20" y="403.65" font-size="7.34" stroke="#1e1e1e" stroke-width="0.18" text-anchor="end">60</text>
<line x1="198.50" y1="399.10" x2="200.50" y2="399.10" stroke="#1e1e1e" stroke-width="0.8"/>
<line x1="198.50" y1="397.15" x2="200.50" y2="397.15" stroke="#1e1e1e" stroke-width="0.8"/>
<line x1="198.50" y1="395.21" x2="200.50" y2="395.21" stroke="#1e1e1e" stroke-width="0.8"/>
<line x1="198.50" y1="393.26" x2="200.50" y2="393.26" stroke="#1e1e1e" stroke-width="0.8"/>
<line x1="197.00" y1="391.32" x2="200.50" y2="391.32" stroke="#1e1e1e" stroke-width="0.9"/>
<text x="195.20" y="393.93" font-size="7.34" stroke="#1e1e1e" stroke-width="0.18" text-anchor="end">80</text>
<line x1="198.50" y1="389.38" x2="200.50" y2="389.38" stroke="#1e1e1e" stroke-width="0.8"/>
<line x1="198.50" y1="387.43" x2="200.50" y2="387.43" stroke="#1e1e1e" stroke-width="0.8"/>
<line x1="198.50" y1="385.49" x2="200.50" y2="385.49" stroke="#1e1e1e" stroke-width="0.8"/>
<line x1="198.50" y1="383.54" x2="200.50" y2="383.54" stroke="#1e1e1e" stroke-width="0.8"/>
<line x1="197.00" y1="381.60" x2="200.50" y2="381.60" stroke="#1e1e1e" stroke-width="0.9"/>
<text x="195.20" y="384.21" font-size="7.34" stroke="#1e1e1e" stroke-width="0.18" text-anchor="end">100</text>
<line x1="199.90" y1="430.20" x2="317.10" y2="430.20" stroke="#1e1e1e" stroke-width="1.4"/>
<path d="M237.55,430.20 L237.80,381.60 L239.00,381.60 L239.25,430.20 Z" fill="#c8102e"/>
<path d="M246.55,430.20 L246.80,404.20 L248.00,404.20 L248.25,430.20 Z" fill="#c8102e"/>
<path d="M255.75,430.20 L256.00,420.48 L257.20,420.48 L257.45,430.20 Z" fill="#c8102e"/>
<path d="M264.95,430.20 L265.20,427.28 L266.40,427.28 L266.65,430.20 Z" fill="#c8102e"/>
<path d="M274.15,430.20 L274.40,429.62 L275.60,429.62 L275.85,430.20 Z" fill="#c8102e"/>
<text x="234.40" y="378.29" font-size="7.02" stroke="#1e1e1e" stroke-width="0.18" text-anchor="middle" textLength="30.70" lengthAdjust="spacingAndGlyphs">589.7556</text>
<text x="246.0" y="404.5" font-size="6.5" textLength="31.6" lengthAdjust="spacingAndGlyphs" transform="rotate(-45 246.0 404.5)" fill="#1e1e1e" stroke="#1e1e1e" stroke-width="0.18">590.2569</text>
<text x="255.7" y="418.0" font-size="6.5" textLength="31.6" lengthAdjust="spacingAndGlyphs" transform="rotate(-45 255.7 418.0)" fill="#1e1e1e" stroke="#1e1e1e" stroke-width="0.18">590.7581</text>
<text x="264.9" y="424.0" font-size="6.5" textLength="31.6" lengthAdjust="spacingAndGlyphs" transform="rotate(-45 264.9 424.0)" fill="#1e1e1e" stroke="#1e1e1e" stroke-width="0.18">591.2593</text>
<text x="177.40" y="404.20" font-size="8.6" stroke="#1e1e1e" stroke-width="0.45" text-anchor="middle" textLength="54.80" lengthAdjust="spacingAndGlyphs" transform="rotate(-90 177.40 404.20)">Relative abundance</text>
<text x="265.10" y="452.78" font-size="8.4" stroke="#1e1e1e" stroke-width="0.18" text-anchor="middle" textLength="96.80" lengthAdjust="spacingAndGlyphs">Expected DSDTLELPSS</text>
<line x1="200.40" y1="462.90" x2="200.40" y2="516.60" stroke="#1e1e1e" stroke-width="1.4"/>
<line x1="196.90" y1="516.00" x2="200.40" y2="516.00" stroke="#1e1e1e" stroke-width="0.9"/>
<text x="195.10" y="518.61" font-size="7.34" stroke="#1e1e1e" stroke-width="0.18" text-anchor="end">0</text>
<line x1="198.40" y1="514.05" x2="200.40" y2="514.05" stroke="#1e1e1e" stroke-width="0.8"/>
<line x1="198.40" y1="512.10" x2="200.40" y2="512.10" stroke="#1e1e1e" stroke-width="0.8"/>
<line x1="198.40" y1="510.16" x2="200.40" y2="510.16" stroke="#1e1e1e" stroke-width="0.8"/>
<line x1="198.40" y1="508.21" x2="200.40" y2="508.21" stroke="#1e1e1e" stroke-width="0.8"/>
<line x1="196.90" y1="506.26" x2="200.40" y2="506.26" stroke="#1e1e1e" stroke-width="0.9"/>
<text x="195.10" y="508.87" font-size="7.34" stroke="#1e1e1e" stroke-width="0.18" text-anchor="end">20</text>
<line x1="198.40" y1="504.31" x2="200.40" y2="504.31" stroke="#1e1e1e" stroke-width="0.8"/>
<line x1="198.40" y1="502.36" x2="200.40" y2="502.36" stroke="#1e1e1e" stroke-width="0.8"/>
<line x1="198.40" y1="500.42" x2="200.40" y2="500.42" stroke="#1e1e1e" stroke-width="0.8"/>
<line x1="198.40" y1="498.47" x2="200.40" y2="498.47" stroke="#1e1e1e" stroke-width="0.8"/>
<line x1="196.90" y1="496.52" x2="200.40" y2="496.52" stroke="#1e1e1e" stroke-width="0.9"/>
<text x="195.10" y="499.13" font-size="7.34" stroke="#1e1e1e" stroke-width="0.18" text-anchor="end">40</text>
<line x1="198.40" y1="494.57" x2="200.40" y2="494.57" stroke="#1e1e1e" stroke-width="0.8"/>
<line x1="198.40" y1="492.62" x2="200.40" y2="492.62" stroke="#1e1e1e" stroke-width="0.8"/>
<line x1="198.40" y1="490.68" x2="200.40" y2="490.68" stroke="#1e1e1e" stroke-width="0.8"/>
<line x1="198.40" y1="488.73" x2="200.40" y2="488.73" stroke="#1e1e1e" stroke-width="0.8"/>
<line x1="196.90" y1="486.78" x2="200.40" y2="486.78" stroke="#1e1e1e" stroke-width="0.9"/>
<text x="195.10" y="489.39" font-size="7.34" stroke="#1e1e1e" stroke-width="0.18" text-anchor="end">60</text>
<line x1="198.40" y1="484.83" x2="200.40" y2="484.83" stroke="#1e1e1e" stroke-width="0.8"/>
<line x1="198.40" y1="482.88" x2="200.40" y2="482.88" stroke="#1e1e1e" stroke-width="0.8"/>
<line x1="198.40" y1="480.94" x2="200.40" y2="480.94" stroke="#1e1e1e" stroke-width="0.8"/>
<line x1="198.40" y1="478.99" x2="200.40" y2="478.99" stroke="#1e1e1e" stroke-width="0.8"/>
<line x1="196.90" y1="477.04" x2="200.40" y2="477.04" stroke="#1e1e1e" stroke-width="0.9"/>
<text x="195.10" y="479.65" font-size="7.34" stroke="#1e1e1e" stroke-width="0.18" text-anchor="end">80</text>
<line x1="198.40" y1="475.09" x2="200.40" y2="475.09" stroke="#1e1e1e" stroke-width="0.8"/>
<line x1="198.40" y1="473.14" x2="200.40" y2="473.14" stroke="#1e1e1e" stroke-width="0.8"/>
<line x1="198.40" y1="471.20" x2="200.40" y2="471.20" stroke="#1e1e1e" stroke-width="0.8"/>
<line x1="198.40" y1="469.25" x2="200.40" y2="469.25" stroke="#1e1e1e" stroke-width="0.8"/>
<line x1="196.90" y1="467.30" x2="200.40" y2="467.30" stroke="#1e1e1e" stroke-width="0.9"/>
<text x="195.10" y="469.91" font-size="7.34" stroke="#1e1e1e" stroke-width="0.18" text-anchor="end">100</text>
<line x1="199.80" y1="516.00" x2="317.50" y2="516.00" stroke="#1e1e1e" stroke-width="1.4"/>
<line x1="206.50" y1="516.00" x2="206.50" y2="518.60" stroke="#1e1e1e" stroke-width="0.9"/>
<text x="206.50" y="526.61" font-size="7.34" stroke="#1e1e1e" stroke-width="0.18" text-anchor="middle">588</text>
<line x1="210.13" y1="516.00" x2="210.13" y2="517.50" stroke="#1e1e1e" stroke-width="0.8"/>
<line x1="213.76" y1="516.00" x2="213.76" y2="517.50" stroke="#1e1e1e" stroke-width="0.8"/>
<line x1="217.39" y1="516.00" x2="217.39" y2="517.50" stroke="#1e1e1e" stroke-width="0.8"/>
<line x1="221.02" y1="516.00" x2="221.02" y2="517.50" stroke="#1e1e1e" stroke-width="0.8"/>
<line x1="224.65" y1="516.00" x2="224.65" y2="518.60" stroke="#1e1e1e" stroke-width="0.9"/>
<text x="224.65" y="526.61" font-size="7.34" stroke="#1e1e1e" stroke-width="0.18" text-anchor="middle">589</text>
<line x1="228.28" y1="516.00" x2="228.28" y2="517.50" stroke="#1e1e1e" stroke-width="0.8"/>
<line x1="231.91" y1="516.00" x2="231.91" y2="517.50" stroke="#1e1e1e" stroke-width="0.8"/>
<line x1="235.54" y1="516.00" x2="235.54" y2="517.50" stroke="#1e1e1e" stroke-width="0.8"/>
<line x1="239.17" y1="516.00" x2="239.17" y2="517.50" stroke="#1e1e1e" stroke-width="0.8"/>
<line x1="242.80" y1="516.00" x2="242.80" y2="518.60" stroke="#1e1e1e" stroke-width="0.9"/>
<text x="242.80" y="526.61" font-size="7.34" stroke="#1e1e1e" stroke-width="0.18" text-anchor="middle">590</text>
<line x1="246.43" y1="516.00" x2="246.43" y2="517.50" stroke="#1e1e1e" stroke-width="0.8"/>
<line x1="250.06" y1="516.00" x2="250.06" y2="517.50" stroke="#1e1e1e" stroke-width="0.8"/>
<line x1="253.69" y1="516.00" x2="253.69" y2="517.50" stroke="#1e1e1e" stroke-width="0.8"/>
<line x1="257.32" y1="516.00" x2="257.32" y2="517.50" stroke="#1e1e1e" stroke-width="0.8"/>
<line x1="260.95" y1="516.00" x2="260.95" y2="518.60" stroke="#1e1e1e" stroke-width="0.9"/>
<text x="260.95" y="526.61" font-size="7.34" stroke="#1e1e1e" stroke-width="0.18" text-anchor="middle">591</text>
<line x1="264.58" y1="516.00" x2="264.58" y2="517.50" stroke="#1e1e1e" stroke-width="0.8"/>
<line x1="268.21" y1="516.00" x2="268.21" y2="517.50" stroke="#1e1e1e" stroke-width="0.8"/>
<line x1="271.84" y1="516.00" x2="271.84" y2="517.50" stroke="#1e1e1e" stroke-width="0.8"/>
<line x1="275.47" y1="516.00" x2="275.47" y2="517.50" stroke="#1e1e1e" stroke-width="0.8"/>
<line x1="279.10" y1="516.00" x2="279.10" y2="518.60" stroke="#1e1e1e" stroke-width="0.9"/>
<text x="279.10" y="526.61" font-size="7.34" stroke="#1e1e1e" stroke-width="0.18" text-anchor="middle">592</text>
<line x1="282.73" y1="516.00" x2="282.73" y2="517.50" stroke="#1e1e1e" stroke-width="0.8"/>
<line x1="286.36" y1="516.00" x2="286.36" y2="517.50" stroke="#1e1e1e" stroke-width="0.8"/>
<line x1="289.99" y1="516.00" x2="289.99" y2="517.50" stroke="#1e1e1e" stroke-width="0.8"/>
<line x1="293.62" y1="516.00" x2="293.62" y2="517.50" stroke="#1e1e1e" stroke-width="0.8"/>
<line x1="297.25" y1="516.00" x2="297.25" y2="518.60" stroke="#1e1e1e" stroke-width="0.9"/>
<text x="297.25" y="526.61" font-size="7.34" stroke="#1e1e1e" stroke-width="0.18" text-anchor="middle">593</text>
<line x1="300.88" y1="516.00" x2="300.88" y2="517.50" stroke="#1e1e1e" stroke-width="0.8"/>
<line x1="304.51" y1="516.00" x2="304.51" y2="517.50" stroke="#1e1e1e" stroke-width="0.8"/>
<line x1="308.14" y1="516.00" x2="308.14" y2="517.50" stroke="#1e1e1e" stroke-width="0.8"/>
<line x1="311.77" y1="516.00" x2="311.77" y2="517.50" stroke="#1e1e1e" stroke-width="0.8"/>
<line x1="315.40" y1="516.00" x2="315.40" y2="518.60" stroke="#1e1e1e" stroke-width="0.9"/>
<text x="315.40" y="526.61" font-size="7.34" stroke="#1e1e1e" stroke-width="0.18" text-anchor="middle">594</text>
<path d="M237.55,516.00 L237.80,467.30 L239.00,467.30 L239.25,516.00 Z" fill="#c8102e"/>
<path d="M246.65,516.00 L246.90,488.24 L248.10,488.24 L248.35,516.00 Z" fill="#c8102e"/>
<path d="M256.05,516.00 L256.30,506.02 L257.50,506.02 L257.75,516.00 Z" fill="#c8102e"/>
<path d="M264.85,516.00 L265.10,513.08 L266.30,513.08 L266.55,516.00 Z" fill="#c8102e"/>
<path d="M273.95,516.00 L274.20,515.42 L275.40,515.42 L275.65,516.00 Z" fill="#c8102e"/>
<text x="234.20" y="464.19" font-size="7.02" stroke="#1e1e1e" stroke-width="0.18" text-anchor="middle" textLength="30.40" lengthAdjust="spacingAndGlyphs">589.7566</text>
<text x="246.0" y="489.5" font-size="6.5" textLength="31.6" lengthAdjust="spacingAndGlyphs" transform="rotate(-45 246.0 489.5)" fill="#1e1e1e" stroke="#1e1e1e" stroke-width="0.18">590.2581</text>
<text x="255.7" y="504.0" font-size="6.5" textLength="31.6" lengthAdjust="spacingAndGlyphs" transform="rotate(-45 255.7 504.0)" fill="#1e1e1e" stroke="#1e1e1e" stroke-width="0.18">590.7594</text>
<text x="264.9" y="510.5" font-size="6.5" textLength="31.6" lengthAdjust="spacingAndGlyphs" transform="rotate(-45 264.9 510.5)" fill="#1e1e1e" stroke="#1e1e1e" stroke-width="0.18">591.2606</text>
<text x="259.10" y="537.05" font-size="8.3" stroke="#1e1e1e" stroke-width="0.15" text-anchor="middle" textLength="11.00" lengthAdjust="spacingAndGlyphs">m/z</text>
<text x="177.40" y="489.00" font-size="8.6" stroke="#1e1e1e" stroke-width="0.45" text-anchor="middle" textLength="54.70" lengthAdjust="spacingAndGlyphs" transform="rotate(-90 177.40 489.00)">Relative abundance</text>
<text x="348.8" y="326.3" font-size="10.2" font-weight="bold" fill="#000" stroke="#000" stroke-width="0.35">H</text>
<line x1="375.80" y1="330.00" x2="375.80" y2="418.30" stroke="#1e1e1e" stroke-width="1.3"/>
<line x1="372.40" y1="409.20" x2="375.80" y2="409.20" stroke="#1e1e1e" stroke-width="1"/>
<text x="370.20" y="411.96" font-size="7.78" stroke="#1e1e1e" stroke-width="0.18" text-anchor="end">1.0</text>
<line x1="372.40" y1="390.35" x2="375.80" y2="390.35" stroke="#1e1e1e" stroke-width="1"/>
<text x="370.20" y="393.11" font-size="7.78" stroke="#1e1e1e" stroke-width="0.18" text-anchor="end">1.1</text>
<line x1="372.40" y1="371.50" x2="375.80" y2="371.50" stroke="#1e1e1e" stroke-width="1"/>
<text x="370.20" y="374.26" font-size="7.78" stroke="#1e1e1e" stroke-width="0.18" text-anchor="end">1.2</text>
<line x1="372.40" y1="352.65" x2="375.80" y2="352.65" stroke="#1e1e1e" stroke-width="1"/>
<text x="370.20" y="355.41" font-size="7.78" stroke="#1e1e1e" stroke-width="0.18" text-anchor="end">1.3</text>
<line x1="372.40" y1="333.80" x2="375.80" y2="333.80" stroke="#1e1e1e" stroke-width="1"/>
<text x="370.20" y="336.56" font-size="7.78" stroke="#1e1e1e" stroke-width="0.18" text-anchor="end">1.4</text>
<line x1="375.80" y1="418.30" x2="506.80" y2="418.30" stroke="#1e1e1e" stroke-width="1.3"/>
<line x1="375.80" y1="418.30" x2="375.80" y2="421.30" stroke="#1e1e1e" stroke-width="1"/>
<text x="375.80" y="430.06" font-size="7.78" stroke="#1e1e1e" stroke-width="0.18" text-anchor="middle">0</text>
<line x1="396.90" y1="418.30" x2="396.90" y2="421.30" stroke="#1e1e1e" stroke-width="1"/>
<text x="396.90" y="430.06" font-size="7.78" stroke="#1e1e1e" stroke-width="0.18" text-anchor="middle">30</text>
<line x1="418.00" y1="418.30" x2="418.00" y2="421.30" stroke="#1e1e1e" stroke-width="1"/>
<text x="418.00" y="430.06" font-size="7.78" stroke="#1e1e1e" stroke-width="0.18" text-anchor="middle">60</text>
<line x1="439.10" y1="418.30" x2="439.10" y2="421.30" stroke="#1e1e1e" stroke-width="1"/>
<text x="439.10" y="430.06" font-size="7.78" stroke="#1e1e1e" stroke-width="0.18" text-anchor="middle">90</text>
<line x1="460.20" y1="418.30" x2="460.20" y2="421.30" stroke="#1e1e1e" stroke-width="1"/>
<text x="460.20" y="430.06" font-size="7.78" stroke="#1e1e1e" stroke-width="0.18" text-anchor="middle">120</text>
<line x1="481.30" y1="418.30" x2="481.30" y2="421.30" stroke="#1e1e1e" stroke-width="1"/>
<text x="481.30" y="430.06" font-size="7.78" stroke="#1e1e1e" stroke-width="0.18" text-anchor="middle">150</text>
<line x1="502.40" y1="418.30" x2="502.40" y2="421.30" stroke="#1e1e1e" stroke-width="1"/>
<text x="502.40" y="430.06" font-size="7.78" stroke="#1e1e1e" stroke-width="0.18" text-anchor="middle">180</text>
<text x="441.00" y="439.55" font-size="8.3" stroke="#1e1e1e" stroke-width="0.45" text-anchor="middle" textLength="29.60" lengthAdjust="spacingAndGlyphs">Time (sec)</text>
<text x="429.30" y="332.28" font-size="8.4" stroke="#1e1e1e" stroke-width="0.3" textLength="21.90" lengthAdjust="spacingAndGlyphs">CatG</text>
<text x="355.30" y="371.70" font-size="8.3" stroke="#1e1e1e" stroke-width="0.45" text-anchor="middle" textLength="42.50" lengthAdjust="spacingAndGlyphs" transform="rotate(-90 355.30 371.70)">Ca2+ flux ratio</text>
<path d="M375.80,406.80 L382.00,407.30 L387.00,408.30 L390.00,408.80 L393.00,407.80 L396.80,416.10 L400.30,409.60 L403.80,403.40 L407.30,401.00 L410.80,401.50 L414.30,400.20 L417.80,403.40 L421.30,405.70 L424.80,407.80 L428.30,406.20 L431.80,409.30 L435.30,409.60 L440.00,412.00 L445.00,411.00 L450.80,412.90 L456.20,414.30 L461.50,412.90 L466.90,413.60 L472.00,413.00 L477.70,413.90 L483.10,414.40 L488.00,413.30 L494.00,413.90 L498.00,413.30 L503.00,413.90 L503.00,418.90 L498.00,418.30 L494.00,418.90 L488.00,418.30 L483.10,419.40 L477.70,418.90 L472.00,418.00 L466.90,418.60 L461.50,417.90 L456.20,419.30 L450.80,417.90 L445.00,416.00 L440.00,417.00 L435.30,414.60 L431.80,414.30 L428.30,411.20 L424.80,412.80 L421.30,410.70 L417.80,408.40 L414.30,405.20 L410.80,406.50 L407.30,406.00 L403.80,408.40 L400.30,414.60 L396.80,418.80 L393.00,410.50 L390.00,411.50 L387.00,411.00 L382.00,410.00 L375.80,409.50 Z" fill="#f7941d" fill-opacity="0.22" stroke="none"/>
<path d="M375.80,407.50 L382.00,407.00 L387.00,406.50 L393.00,407.50 L396.80,416.30 L400.30,405.79 L403.80,398.49 L407.30,393.70 L410.80,391.63 L414.30,390.90 L417.80,391.22 L424.80,392.96 L431.80,395.53 L440.00,399.26 L445.40,402.59 L450.80,402.00 L456.20,405.30 L461.50,406.00 L472.30,406.70 L477.70,408.00 L483.10,409.40 L488.50,408.00 L494.00,407.40 L499.20,409.40 L503.00,410.70 L503.00,412.90 L499.20,411.60 L494.00,409.60 L488.50,410.20 L483.10,411.60 L477.70,410.20 L472.30,408.90 L461.50,408.26 L456.20,407.68 L450.80,404.66 L445.40,405.84 L440.00,403.53 L431.80,402.12 L424.80,401.56 L417.80,400.70 L414.30,400.17 L410.80,400.27 L407.30,401.41 L403.80,405.11 L400.30,411.31 L396.80,418.50 L393.00,409.70 L387.00,408.70 L382.00,409.20 L375.80,409.70 Z" fill="#2db34a" fill-opacity="0.22" stroke="none"/>
<path d="M375.80,407.00 L378.00,405.00 L381.00,406.50 L385.00,405.50 L390.00,406.50 L393.00,406.50 L396.80,415.80 L400.30,401.93 L403.80,392.42 L407.30,384.13 L410.80,382.30 L414.30,383.98 L417.80,383.50 L421.30,382.87 L424.80,385.37 L428.30,388.09 L431.80,390.78 L435.30,390.88 L440.00,393.60 L445.40,396.76 L450.80,399.78 L456.20,401.95 L461.50,403.44 L466.90,403.78 L472.30,405.49 L483.10,406.20 L494.00,405.50 L503.00,405.10 L503.00,407.80 L494.00,408.20 L483.10,408.90 L472.30,408.20 L466.90,406.51 L461.50,406.24 L456.20,404.89 L450.80,402.99 L445.40,400.48 L440.00,398.06 L435.30,396.17 L431.80,396.71 L428.30,394.65 L424.80,392.44 L421.30,390.26 L417.80,391.00 L414.30,391.35 L410.80,389.32 L407.30,390.62 L403.80,398.29 L400.30,407.14 L396.80,418.50 L393.00,409.20 L390.00,409.20 L385.00,408.20 L381.00,409.20 L378.00,407.70 L375.80,409.70 Z" fill="#5b2a86" fill-opacity="0.2" stroke="none"/>
<path d="M375.80,407.80 L379.00,405.80 L382.00,407.30 L386.00,406.30 L390.00,406.80 L393.00,407.30 L396.80,416.10 L400.30,395.29 L403.80,377.24 L407.30,361.87 L410.80,355.99 L414.30,356.30 L417.20,357.19 L420.90,363.64 L423.30,366.99 L429.40,372.91 L435.50,378.90 L441.60,385.83 L447.70,390.41 L453.80,398.99 L456.20,400.39 L461.50,402.40 L466.90,404.50 L472.30,405.10 L477.70,405.80 L483.10,406.50 L488.50,405.80 L494.00,405.10 L503.00,405.80 L503.00,408.20 L494.00,407.50 L488.50,408.20 L483.10,408.90 L477.70,408.20 L472.30,407.50 L466.90,406.90 L461.50,404.80 L456.20,402.81 L453.80,401.41 L447.70,392.98 L441.60,388.95 L435.50,383.62 L429.40,380.89 L423.30,379.45 L420.90,377.75 L417.20,373.13 L414.30,372.80 L410.80,371.93 L407.30,376.11 L403.80,389.03 L400.30,404.47 L396.80,418.50 L393.00,409.70 L390.00,409.20 L386.00,408.70 L382.00,409.70 L379.00,408.20 L375.80,410.20 Z" fill="#0a4a8c" fill-opacity="0.22" stroke="none"/>
<path d="M375.80,408.50 L379.00,407.00 L382.00,406.80 L386.00,407.00 L390.00,406.60 L393.00,407.00 L396.80,416.30 L400.30,391.27 L403.80,364.39 L407.30,350.21 L410.80,341.87 L414.30,348.40 L417.80,352.33 L421.30,359.54 L423.30,362.44 L429.40,373.16 L435.50,383.11 L441.60,389.34 L447.70,394.28 L453.80,398.00 L458.00,399.50 L461.50,401.00 L466.90,400.60 L472.30,402.40 L477.70,404.70 L483.10,405.10 L488.50,406.70 L494.00,405.30 L499.20,407.40 L503.00,406.70 L503.00,408.70 L499.20,409.40 L494.00,407.30 L488.50,408.70 L483.10,407.10 L477.70,406.70 L472.30,404.40 L466.90,402.60 L461.50,403.00 L458.00,401.50 L453.80,400.00 L447.70,396.32 L441.60,391.46 L435.50,385.49 L429.40,376.04 L423.30,365.96 L421.30,363.26 L417.80,356.27 L414.30,352.40 L410.80,345.73 L407.30,353.79 L403.80,367.61 L400.30,394.13 L396.80,418.30 L393.00,409.00 L390.00,408.60 L386.00,409.00 L382.00,408.80 L379.00,409.00 L375.80,410.50 Z" fill="#c8102e" fill-opacity="0.15" stroke="none"/>
<path d="M375.80,408.00 L382.00,408.50 L387.00,409.50 L390.00,410.00 L393.00,409.00 L396.80,417.30 L400.30,413.10 L403.80,406.90 L407.30,404.50 L410.80,405.00 L414.30,403.70 L417.80,406.90 L421.30,409.20 L424.80,411.30 L428.30,409.70 L431.80,412.80 L435.30,413.10 L440.00,415.50 L445.00,414.50 L450.80,416.40 L456.20,417.80 L461.50,416.40 L466.90,417.10 L472.00,416.50 L477.70,417.40 L483.10,417.90 L488.00,416.80 L494.00,417.40 L498.00,416.80 L503.00,417.40" fill="none" stroke="#f7941d" stroke-width="1.55" stroke-linejoin="round"/>
<path d="M375.80,408.50 L382.00,408.00 L387.00,407.50 L393.00,408.50 L396.80,417.30 L400.30,407.00 L403.80,399.80 L407.30,395.10 L410.80,393.10 L414.30,392.40 L417.80,392.70 L424.80,394.30 L431.80,396.70 L440.00,400.30 L445.40,403.60 L450.80,403.00 L456.20,406.30 L461.50,407.00 L472.30,407.70 L477.70,409.00 L483.10,410.40 L488.50,409.00 L494.00,408.40 L499.20,410.40 L503.00,411.70" fill="none" stroke="#2db34a" stroke-width="1.55" stroke-linejoin="round"/>
<path d="M375.80,408.50 L378.00,406.50 L381.00,408.00 L385.00,407.00 L390.00,408.00 L393.00,408.00 L396.80,417.30 L400.30,405.00 L403.80,395.90 L407.30,388.00 L410.80,386.50 L414.30,388.40 L417.80,388.00 L421.30,387.30 L424.80,389.60 L428.30,392.00 L431.80,394.30 L435.30,394.00 L440.00,396.20 L445.40,398.90 L450.80,401.60 L456.20,403.60 L461.50,405.00 L466.90,405.30 L472.30,407.00 L483.10,407.70 L494.00,407.00 L503.00,406.60" fill="none" stroke="#5b2a86" stroke-width="1.55" stroke-linejoin="round"/>
<path d="M375.80,409.00 L379.00,407.00 L382.00,408.50 L386.00,407.50 L390.00,408.00 L393.00,408.50 L396.80,417.30 L400.30,400.00 L403.80,383.30 L407.30,369.20 L410.80,364.20 L414.30,364.80 L417.20,365.40 L420.90,370.90 L423.30,373.40 L429.40,377.00 L435.50,381.30 L441.60,387.40 L447.70,391.70 L453.80,400.20 L456.20,401.60 L461.50,403.60 L466.90,405.70 L472.30,406.30 L477.70,407.00 L483.10,407.70 L488.50,407.00 L494.00,406.30 L503.00,407.00" fill="none" stroke="#0a4a8c" stroke-width="1.55" stroke-linejoin="round"/>
<path d="M375.80,409.50 L379.00,408.00 L382.00,407.80 L386.00,408.00 L390.00,407.60 L393.00,408.00 L396.80,417.30 L400.30,392.70 L403.80,366.00 L407.30,352.00 L410.80,343.80 L414.30,350.40 L417.80,354.30 L421.30,361.40 L423.30,364.20 L429.40,374.60 L435.50,384.30 L441.60,390.40 L447.70,395.30 L453.80,399.00 L458.00,400.50 L461.50,402.00 L466.90,401.60 L472.30,403.40 L477.70,405.70 L483.10,406.10 L488.50,407.70 L494.00,406.30 L499.20,408.40 L503.00,407.70" fill="none" stroke="#c8102e" stroke-width="1.55" stroke-linejoin="round"/>
<line x1="480.50" y1="334.10" x2="489.80" y2="334.10" stroke="#c8102e" stroke-width="1.5"/>
<text x="493.20" y="336.78" font-size="7.56" stroke="#1e1e1e" stroke-width="0.18" textLength="9.80" lengthAdjust="spacingAndGlyphs">WT</text>
<line x1="480.50" y1="345.00" x2="489.80" y2="345.00" stroke="#0a4a8c" stroke-width="1.5"/>
<text x="493.20" y="347.68" font-size="7.56" stroke="#1e1e1e" stroke-width="0.18" textLength="17.80" lengthAdjust="spacingAndGlyphs">S66E</text>
<line x1="480.50" y1="355.90" x2="489.80" y2="355.90" stroke="#2db34a" stroke-width="1.5"/>
<text x="493.20" y="358.58" font-size="7.56" stroke="#1e1e1e" stroke-width="0.18" textLength="17.80" lengthAdjust="spacingAndGlyphs">S67E</text>
<line x1="480.50" y1="366.80" x2="489.80" y2="366.80" stroke="#5b2a86" stroke-width="1.5"/>
<text x="493.20" y="369.48" font-size="7.56" stroke="#1e1e1e" stroke-width="0.18" textLength="17.80" lengthAdjust="spacingAndGlyphs">R68E</text>
<line x1="480.50" y1="377.70" x2="489.80" y2="377.70" stroke="#f7941d" stroke-width="1.5"/>
<text x="493.20" y="380.38" font-size="7.56" stroke="#1e1e1e" stroke-width="0.18" textLength="17.00" lengthAdjust="spacingAndGlyphs">Mock</text>
<text x="348.8" y="453.8" font-size="10.2" font-weight="bold" fill="#000" stroke="#000" stroke-width="0.35">I</text>
<line x1="376.30" y1="455.00" x2="376.30" y2="545.20" stroke="#1e1e1e" stroke-width="1.3"/>
<line x1="372.90" y1="536.00" x2="376.30" y2="536.00" stroke="#1e1e1e" stroke-width="1"/>
<text x="370.70" y="538.76" font-size="7.78" stroke="#1e1e1e" stroke-width="0.18" text-anchor="end">1.0</text>
<line x1="372.90" y1="517.15" x2="376.30" y2="517.15" stroke="#1e1e1e" stroke-width="1"/>
<text x="370.70" y="519.91" font-size="7.78" stroke="#1e1e1e" stroke-width="0.18" text-anchor="end">1.1</text>
<line x1="372.90" y1="498.30" x2="376.30" y2="498.30" stroke="#1e1e1e" stroke-width="1"/>
<text x="370.70" y="501.06" font-size="7.78" stroke="#1e1e1e" stroke-width="0.18" text-anchor="end">1.2</text>
<line x1="372.90" y1="479.45" x2="376.30" y2="479.45" stroke="#1e1e1e" stroke-width="1"/>
<text x="370.70" y="482.21" font-size="7.78" stroke="#1e1e1e" stroke-width="0.18" text-anchor="end">1.3</text>
<line x1="372.90" y1="460.60" x2="376.30" y2="460.60" stroke="#1e1e1e" stroke-width="1"/>
<text x="370.70" y="463.36" font-size="7.78" stroke="#1e1e1e" stroke-width="0.18" text-anchor="end">1.4</text>
<line x1="376.30" y1="545.20" x2="507.40" y2="545.20" stroke="#1e1e1e" stroke-width="1.3"/>
<line x1="376.30" y1="545.20" x2="376.30" y2="548.20" stroke="#1e1e1e" stroke-width="1"/>
<text x="376.30" y="556.86" font-size="7.78" stroke="#1e1e1e" stroke-width="0.18" text-anchor="middle">0</text>
<line x1="397.50" y1="545.20" x2="397.50" y2="548.20" stroke="#1e1e1e" stroke-width="1"/>
<text x="397.50" y="556.86" font-size="7.78" stroke="#1e1e1e" stroke-width="0.18" text-anchor="middle">30</text>
<line x1="418.70" y1="545.20" x2="418.70" y2="548.20" stroke="#1e1e1e" stroke-width="1"/>
<text x="418.70" y="556.86" font-size="7.78" stroke="#1e1e1e" stroke-width="0.18" text-anchor="middle">60</text>
<line x1="439.90" y1="545.20" x2="439.90" y2="548.20" stroke="#1e1e1e" stroke-width="1"/>
<text x="439.90" y="556.86" font-size="7.78" stroke="#1e1e1e" stroke-width="0.18" text-anchor="middle">90</text>
<line x1="461.10" y1="545.20" x2="461.10" y2="548.20" stroke="#1e1e1e" stroke-width="1"/>
<text x="461.10" y="556.86" font-size="7.78" stroke="#1e1e1e" stroke-width="0.18" text-anchor="middle">120</text>
<line x1="482.30" y1="545.20" x2="482.30" y2="548.20" stroke="#1e1e1e" stroke-width="1"/>
<text x="482.30" y="556.86" font-size="7.78" stroke="#1e1e1e" stroke-width="0.18" text-anchor="middle">150</text>
<line x1="503.50" y1="545.20" x2="503.50" y2="548.20" stroke="#1e1e1e" stroke-width="1"/>
<text x="503.50" y="556.86" font-size="7.78" stroke="#1e1e1e" stroke-width="0.18" text-anchor="middle">180</text>
<text x="442.40" y="566.65" font-size="8.3" stroke="#1e1e1e" stroke-width="0.45" text-anchor="middle" textLength="29.60" lengthAdjust="spacingAndGlyphs">Time (sec)</text>
<text x="410.50" y="458.98" font-size="8.4" stroke="#1e1e1e" stroke-width="0.3" textLength="36.70" lengthAdjust="spacingAndGlyphs">Thrombin</text>
<text x="356.50" y="502.70" font-size="8.3" stroke="#1e1e1e" stroke-width="0.45" text-anchor="middle" textLength="42.60" lengthAdjust="spacingAndGlyphs" transform="rotate(-90 356.50 502.70)">Ca2+ flux ratio</text>
<path d="M376.30,535.00 L384.00,535.00 L390.00,534.00 L397.00,536.00 L400.60,537.00 L404.00,531.80 L407.60,529.00 L412.00,530.20 L417.00,532.10 L423.30,532.90 L432.70,535.40 L440.00,537.60 L445.00,537.80 L450.80,539.10 L456.20,541.10 L461.50,539.30 L466.90,541.10 L472.00,539.60 L477.70,540.10 L483.10,541.00 L488.00,540.10 L494.00,541.30 L499.00,540.50 L504.30,541.00 L504.30,545.40 L499.00,544.90 L494.00,545.70 L488.00,544.50 L483.10,545.40 L477.70,544.50 L472.00,544.00 L466.90,545.50 L461.50,543.70 L456.20,545.50 L450.80,543.50 L445.00,542.20 L440.00,542.00 L432.70,539.80 L423.30,537.30 L417.00,536.50 L412.00,534.60 L407.60,533.40 L404.00,536.20 L400.60,539.20 L397.00,538.20 L390.00,536.20 L384.00,537.20 L376.30,537.20 Z" fill="#f7941d" fill-opacity="0.25" stroke="none"/>
<path d="M376.30,535.00 L382.00,535.50 L388.00,535.00 L393.00,533.00 L397.50,531.50 L400.60,538.00 L404.00,521.00 L408.00,501.00 L411.00,491.00 L413.90,486.60 L418.00,484.60 L422.00,484.00 L425.70,484.20 L430.00,488.00 L434.00,492.00 L440.00,498.80 L445.40,503.50 L450.80,508.20 L456.20,510.90 L461.50,514.30 L466.90,517.60 L472.30,518.30 L477.70,520.30 L483.10,525.00 L488.50,524.40 L494.00,523.00 L499.20,524.40 L504.30,525.70 L504.30,533.70 L499.20,532.40 L494.00,531.00 L488.50,532.40 L483.10,533.00 L477.70,528.30 L472.30,526.30 L466.90,525.60 L461.50,522.30 L456.20,518.90 L450.80,516.20 L445.40,511.50 L440.00,506.80 L434.00,500.00 L430.00,496.00 L425.70,492.20 L422.00,492.00 L418.00,492.60 L413.90,494.60 L411.00,499.00 L408.00,509.00 L404.00,523.00 L400.60,540.00 L397.50,533.50 L393.00,535.00 L388.00,537.00 L382.00,537.50 L376.30,537.00 Z" fill="#5b2a86" fill-opacity="0.24" stroke="none"/>
<path d="M376.30,533.50 L384.00,533.50 L388.00,533.00 L392.00,533.50 L397.00,534.50 L400.60,536.50 L404.00,528.28 L407.60,521.35 L412.00,508.25 L417.00,494.80 L424.10,487.07 L428.80,484.27 L434.00,487.84 L440.00,490.92 L450.80,501.56 L461.50,510.40 L472.30,516.40 L483.10,521.10 L494.00,524.50 L504.30,526.50 L504.30,531.00 L494.00,529.00 L483.10,525.60 L472.30,520.90 L461.50,514.90 L450.80,506.12 L440.00,496.26 L434.00,494.74 L428.80,493.15 L424.10,497.54 L417.00,505.51 L412.00,517.44 L407.60,528.81 L404.00,534.54 L400.60,541.00 L397.00,539.00 L392.00,538.00 L388.00,537.50 L384.00,538.00 L376.30,538.00 Z" fill="#2db34a" fill-opacity="0.24" stroke="none"/>
<path d="M376.30,534.00 L380.00,536.00 L384.00,535.00 L388.00,535.50 L392.00,535.00 L396.00,536.00 L400.60,538.00 L404.00,525.00 L407.60,505.00 L411.00,489.00 L414.70,482.90 L419.40,478.20 L424.00,479.50 L429.60,481.30 L434.00,485.00 L440.00,491.70 L445.40,497.10 L450.80,503.20 L456.20,507.20 L461.50,511.20 L466.90,514.60 L472.30,517.30 L477.70,518.60 L483.10,522.00 L488.50,522.70 L494.00,523.60 L499.20,525.00 L504.30,526.70 L504.30,532.70 L499.20,531.00 L494.00,529.60 L488.50,528.70 L483.10,528.00 L477.70,524.60 L472.30,523.30 L466.90,520.60 L461.50,517.20 L456.20,513.20 L450.80,509.20 L445.40,503.10 L440.00,497.70 L434.00,491.00 L429.60,487.30 L424.00,485.50 L419.40,484.20 L414.70,488.90 L411.00,495.00 L407.60,511.00 L404.00,527.00 L400.60,540.00 L396.00,538.00 L392.00,537.00 L388.00,537.50 L384.00,537.00 L380.00,538.00 L376.30,536.00 Z" fill="#0a4a8c" fill-opacity="0.22" stroke="none"/>
<path d="M376.30,536.00 L384.00,536.00 L390.00,535.00 L397.00,537.00 L400.60,538.00 L404.00,535.00 L407.60,532.20 L412.00,533.40 L417.00,535.30 L423.30,536.10 L432.70,538.60 L440.00,540.80 L445.00,541.00 L450.80,542.30 L456.20,544.30 L461.50,542.50 L466.90,544.30 L472.00,542.80 L477.70,543.30 L483.10,544.20 L488.00,543.30 L494.00,544.50 L499.00,543.70 L504.30,544.20" fill="none" stroke="#f7941d" stroke-width="1.55" stroke-linejoin="round"/>
<path d="M376.30,536.00 L384.00,536.00 L388.00,535.50 L392.00,536.00 L397.00,537.00 L400.60,539.00 L404.00,532.00 L407.60,525.90 L412.00,514.00 L417.00,501.60 L424.10,493.70 L428.80,489.80 L434.00,492.00 L440.00,494.00 L450.80,504.10 L461.50,512.90 L472.30,518.90 L483.10,523.60 L494.00,527.00 L504.30,529.00" fill="none" stroke="#2db34a" stroke-width="1.55" stroke-linejoin="round"/>
<path d="M376.30,536.00 L382.00,536.50 L388.00,536.00 L393.00,534.00 L397.50,532.50 L400.60,539.00 L404.00,522.00 L408.00,505.00 L411.00,495.00 L413.90,490.60 L418.00,488.60 L422.00,488.00 L425.70,488.20 L430.00,492.00 L434.00,496.00 L440.00,502.80 L445.40,507.50 L450.80,512.20 L456.20,514.90 L461.50,518.30 L466.90,521.60 L472.30,522.30 L477.70,524.30 L483.10,529.00 L488.50,528.40 L494.00,527.00 L499.20,528.40 L504.30,529.70" fill="none" stroke="#5b2a86" stroke-width="1.55" stroke-linejoin="round"/>
<path d="M376.30,536.00 L380.00,537.50 L384.00,536.00 L388.00,537.00 L392.00,536.00 L396.00,537.00 L400.60,539.00 L404.00,525.00 L407.60,507.00 L410.80,489.80 L414.70,482.00 L418.00,479.00 L421.00,478.50 L425.00,481.00 L429.60,485.90 L434.00,489.50 L440.00,495.50 L445.40,503.50 L450.80,511.50 L456.20,514.90 L461.50,518.90 L466.90,520.30 L472.30,524.30 L477.70,525.70 L483.10,529.00 L488.50,529.70 L496.50,533.10 L499.20,529.70 L504.30,530.40" fill="none" stroke="#c8102e" stroke-width="1.55" stroke-linejoin="round"/>
<path d="M376.30,535.00 L380.00,537.00 L384.00,536.00 L388.00,536.50 L392.00,536.00 L396.00,537.00 L400.60,539.00 L404.00,526.00 L407.60,508.00 L411.00,492.00 L414.70,485.90 L419.40,481.20 L424.00,482.50 L429.60,484.30 L434.00,488.00 L440.00,494.70 L445.40,500.10 L450.80,506.20 L456.20,510.20 L461.50,514.20 L466.90,517.60 L472.30,520.30 L477.70,521.60 L483.10,525.00 L488.50,525.70 L494.00,526.60 L499.20,528.00 L504.30,529.70" fill="none" stroke="#0a4a8c" stroke-width="1.55" stroke-linejoin="round"/>
</g>
<rect x="0.5" y="0.5" width="519" height="573" fill="none" stroke="#000" stroke-width="1"/>
</svg>
</body></html>
